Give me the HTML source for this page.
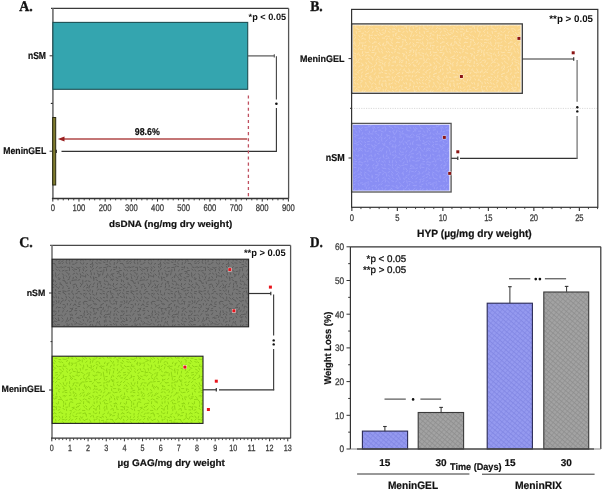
<!DOCTYPE html>
<html><head><meta charset="utf-8"><style>
html,body{margin:0;padding:0;background:#fff;width:602px;height:490px;overflow:hidden}
svg{display:block;filter:blur(0.35px)}
text{text-rendering:geometricPrecision}
</style></head><body>
<svg width="602" height="490" viewBox="0 0 602 490">
<defs><pattern id="pgrey" patternUnits="userSpaceOnUse" width="68" height="68"><rect width="68" height="68" fill="#777777"/><path d="M1.5 1.9L0.2 3.1M2.2 4.0L1.2 5.9M1.5 6.9L-0.1 7.8M69.5 6.9L67.9 7.8M2.1 9.7L2.5 11.7M1.8 16.1L0.3 16.6M1.5 18.6L-0.3 19.0M69.5 18.6L67.7 19.0M0.2 21.8L1.9 22.0M0.9 24.9L2.2 26.1M0.6 28.2L1.5 29.4M2.9 31.7L2.1 33.2M2.0 36.2L3.7 36.9M3.1 39.4L1.3 39.8M1.9 42.1L3.1 43.7M2.6 45.7L2.6 47.7M1.3 48.1L-0.1 49.2M69.3 48.1L67.9 49.2M1.5 52.0L0.3 53.6M1.4 54.9L1.4 57.0M1.7 58.5L1.8 60.0M1.6 63.3L-0.4 63.4M69.6 63.3L67.6 63.4M1.5 64.4L1.4 66.6M6.5 1.4L5.0 2.2M5.4 5.3L4.9 7.1M5.3 8.5L3.8 8.7M6.8 12.3L4.8 13.0M6.0 14.4L5.7 16.2M4.2 18.8L3.9 20.4M4.7 21.3L5.5 22.9M5.5 24.9L4.9 26.7M3.1 27.7L4.8 28.8M6.8 32.4L5.1 33.6M4.9 35.8L4.1 37.2M4.6 37.4L3.3 38.5M3.8 42.1L4.5 43.5M3.5 45.5L5.0 46.4M5.1 48.4L6.1 50.0M3.8 51.6L4.2 53.2M4.2 56.2L4.1 57.9M4.6 60.2L6.1 60.3M3.4 62.9L5.2 63.9M4.7 65.7L6.4 67.1M8.4 1.1L10.0 2.4M7.7 4.4L8.8 6.1M8.5 7.9L6.4 8.1M7.4 11.8L8.7 13.7M8.5 14.6L9.6 15.6M10.4 17.0L8.5 18.2M9.7 20.9L7.6 21.8M8.7 24.7L9.3 26.3M7.6 28.5L8.0 30.1M7.0 31.9L8.1 33.5M8.8 36.3L7.4 36.8M8.8 38.6L6.7 38.7M8.7 40.9L7.6 42.7M10.5 45.2L8.6 45.9M7.7 49.8L9.2 51.2M8.3 51.7L6.7 52.1M9.9 55.9L8.3 56.8M9.0 58.6L7.2 59.4M8.7 63.4L10.5 64.2M6.5 65.0L8.6 65.5M12.1 1.6L13.1 3.4M12.8 4.0L12.4 5.6M11.8 7.6L10.0 8.3M12.2 11.0L13.6 12.6M13.1 13.5L12.3 14.8M10.1 19.5L11.8 19.7M12.3 21.6L13.8 22.2M10.2 25.7L12.3 26.4M12.4 29.8L10.8 30.3M10.4 31.9L12.3 32.6M11.7 34.5L9.9 34.6M11.7 38.3L12.6 39.6M13.7 43.5L12.1 43.7M12.2 46.1L10.3 46.2M11.7 49.0L13.0 50.4M10.6 51.9L12.3 52.3M13.5 55.1L12.6 56.9M12.4 58.5L13.5 60.0M12.3 63.4L10.6 64.0M11.7 65.4L11.3 67.4M14.1 0.0L15.3 1.1M14.4 3.8L16.4 4.3M14.8 8.1L14.8 10.3M15.1 11.4L13.8 12.4M17.2 13.8L15.5 15.3M15.2 18.0L17.0 18.6M17.1 21.3L15.5 21.9M15.7 23.5L16.9 25.3M16.9 29.4L15.1 30.4M15.6 30.7L15.9 32.3M15.3 35.5L16.4 36.7M16.6 38.9L16.3 40.8M15.9 41.5L16.4 43.2M15.1 43.9L14.3 45.6M15.1 47.5L15.8 49.0M15.2 51.7L13.6 52.6M14.5 55.9L15.6 56.9M15.8 58.7L15.0 60.3M15.0 62.8L16.4 64.1M15.0 64.7L15.5 66.6M19.0 1.9L20.3 3.5M17.7 3.0L17.6 5.2M18.7 8.8L17.1 9.4M18.8 11.8L19.6 13.7M20.3 15.0L18.3 16.0M19.1 18.4L20.5 19.3M18.6 21.7L17.5 22.8M18.7 25.2L19.6 26.9M16.8 29.3L19.0 29.6M18.7 31.8L20.2 33.4M20.6 34.1L19.0 35.5M18.9 38.5L19.3 40.7M20.6 41.7L19.1 42.8M16.9 45.1L18.9 45.9M20.1 47.5L19.5 49.3M17.0 51.5L18.5 52.9M17.4 54.6L17.7 56.1M19.7 59.3L18.3 60.2M17.5 62.3L18.8 63.7M19.0 66.1L17.3 67.4M23.2 0.7L23.3 2.9M22.4 4.5L23.1 6.1M20.2 8.9L22.1 9.6M23.0 12.2L21.4 13.8M21.4 14.4L21.0 16.2M22.2 17.6L22.0 19.1M21.4 21.2L22.5 22.7M22.7 24.9L22.8 26.9M20.9 28.2L22.7 28.2M23.2 32.7L21.5 33.7M24.1 35.2L22.5 36.1M22.2 39.6L23.2 40.9M22.1 41.9L22.7 43.3M21.5 44.7L22.2 46.8M23.3 49.5L21.3 50.2M22.5 52.4L21.7 54.2M22.8 55.0L22.0 56.8M24.1 59.7L22.2 60.7M22.5 62.4L23.2 63.9M22.7 66.4L22.5 68.0M26.2 0.9L26.4 2.4M25.3 4.8L25.7 6.6M25.9 6.2L25.8 8.5M26.5 10.8L25.4 12.5M25.6 14.3L24.0 14.9M24.6 18.6L24.4 20.4M24.7 22.2L26.4 23.2M25.4 25.5L26.7 27.0M24.0 28.5L25.8 29.6M25.5 31.2L27.2 32.6M24.9 36.4L27.1 36.6M25.6 37.6L26.0 39.7M26.5 41.0L25.9 42.5M27.6 45.5L25.6 46.0M25.8 47.9L25.7 49.5M24.2 52.3L25.1 54.2M25.4 55.9L24.3 57.3M24.5 58.5L24.6 60.1M25.1 60.8L24.4 62.9M25.5 64.3L24.2 66.1M29.5 1.0L30.5 2.9M27.1 5.3L28.9 5.8M28.2 7.8L29.6 8.6M29.9 11.0L29.5 12.6M29.7 13.8L29.1 16.0M30.9 17.0L29.2 18.3M28.7 20.7L28.2 22.9M29.3 25.8L28.1 27.0M29.0 27.3L30.8 28.2M27.0 31.6L28.7 32.4M28.9 36.6L30.5 36.8M29.2 37.4L30.2 38.6M28.4 40.4L27.5 42.3M29.8 45.9L28.9 47.5M29.6 49.6L28.8 51.2M28.1 52.9L27.6 54.6M29.2 55.5L29.1 57.0M27.7 58.7L29.4 59.9M29.4 62.5L28.1 64.1M28.6 66.1L30.2 67.7M32.4 2.2L30.5 3.2M32.0 3.6L30.5 4.6M31.0 9.5L32.9 9.8M31.8 10.0L32.5 12.0M33.3 13.4L33.1 15.0M32.1 17.6L33.9 17.8M31.9 21.2L33.8 22.1M32.5 25.6L33.6 27.1M31.2 28.3L32.1 29.8M33.2 32.6L32.8 34.2M33.7 35.5L31.6 35.6M33.2 38.5L33.0 40.7M32.3 41.6L33.9 42.4M31.9 44.1L32.8 45.8M31.6 49.3L30.8 50.8M31.3 51.5L32.4 53.2M31.3 55.7L33.3 56.7M30.8 58.8L33.0 59.3M33.4 63.6L31.2 64.1M34.1 67.1L32.0 67.6M35.1 0.7L34.6 2.9M37.0 4.9L35.7 6.2M36.5 7.9L37.0 9.7M36.1 11.6L37.5 12.4M36.9 15.2L35.4 15.7M34.7 19.1L36.3 19.4M35.0 21.3L36.6 21.8M35.3 25.4L36.8 25.8M35.6 28.7L37.5 29.8M35.5 31.5L33.6 32.5M35.5 35.6L34.9 37.7M37.1 38.1L36.1 39.7M37.5 42.4L36.1 44.0M36.0 44.7L37.7 45.9M36.3 48.4L36.4 50.2M36.8 52.7L36.4 54.2M35.8 55.5L37.3 56.5M35.3 58.0L37.0 58.6M37.6 63.4L35.7 63.6M35.9 65.5L35.8 67.4M39.6 1.8L40.1 3.7M38.7 3.6L38.6 5.6M38.3 9.1L40.1 10.1M40.5 11.6L40.1 13.3M39.8 16.0L37.9 16.7M40.9 19.3L39.2 20.1M38.6 21.8L39.4 23.8M38.9 24.3L39.2 25.9M37.9 28.7L39.6 28.7M38.8 32.3L38.3 34.0M40.3 34.1L40.2 36.2M40.3 38.3L38.8 39.6M40.6 42.4L38.6 42.6M39.0 44.9L37.3 45.1M37.9 47.6L38.0 49.8M39.5 52.8L38.2 53.6M39.5 56.3L39.2 58.2M39.5 60.5L37.9 60.6M39.6 62.0L38.8 63.4M38.5 64.7L38.6 66.8M43.8 1.7L42.9 3.1M41.7 4.7L42.8 6.3M44.2 7.2L42.7 7.9M41.5 12.3L43.0 13.4M43.2 16.2L41.4 16.2M42.6 18.8L42.4 20.5M43.1 20.9L43.2 22.5M44.8 25.6L42.6 26.1M41.8 28.0L42.1 30.0M42.6 30.9L44.0 32.4M41.5 34.3L43.1 35.4M42.8 39.2L42.6 41.2M41.0 41.5L42.3 43.1M41.6 44.4L42.3 46.1M41.2 49.0L43.0 50.1M42.1 52.6L43.8 52.9M43.9 55.8L42.0 57.1M41.6 58.8L42.5 60.2M40.7 62.1L42.6 62.6M43.4 65.7L42.5 67.2M46.0 1.5L44.3 2.2M44.1 3.1L45.3 4.8M45.5 6.9L44.3 8.8M45.6 11.4L45.5 12.9M44.8 13.7L46.2 15.2M45.3 17.4L47.3 17.9M44.4 21.1L45.5 22.2M44.4 23.6L45.1 25.7M46.7 27.6L45.8 29.0M46.8 31.7L45.1 32.0M47.5 35.6L45.7 36.5M47.3 38.0L46.3 39.7M46.1 41.7L45.9 43.6M47.0 45.4L46.7 47.0M45.2 47.9L46.6 49.1M45.4 51.4L46.6 52.8M45.0 55.6L46.7 56.2M46.4 58.5L46.1 60.7M45.6 63.3L47.3 63.4M47.1 65.3L45.6 65.7M51.2 0.5L49.3 1.5M48.0 5.5L49.9 6.5M48.1 8.0L49.9 8.7M49.6 11.7L48.0 12.9M49.1 16.1L47.2 16.6M49.9 18.5L48.1 19.2M49.7 21.3L50.2 23.4M48.2 25.6L50.0 25.9M47.4 29.4L49.0 29.4M48.4 30.5L48.4 32.3M49.7 36.6L47.8 37.1M49.3 39.1L50.8 40.6M48.3 41.9L49.0 43.4M49.4 46.0L50.6 47.8M50.0 49.7L47.9 49.7M47.9 51.7L48.6 53.4M50.6 55.1L49.5 56.8M49.9 57.5L48.8 59.4M48.5 62.4L48.6 64.1M48.7 67.4L50.9 67.5M51.5 2.0L53.3 3.0M52.8 4.6L50.7 4.8M53.3 7.5L53.5 9.4M52.6 11.9L54.1 13.0M53.9 15.2L51.7 15.7M51.1 18.1L52.6 18.7M52.4 20.7L50.9 22.0M52.4 24.5L54.4 25.5M52.6 29.9L54.4 30.0M53.9 32.6L52.1 33.1M53.4 33.9L51.5 35.2M53.3 38.7L54.1 40.2M54.2 43.4L52.5 43.6M52.7 44.9L53.1 47.0M54.3 49.0L53.1 50.7M52.3 52.0L53.8 53.5M51.5 55.5L52.1 57.4M53.9 59.4L52.2 59.5M51.1 63.3L52.0 64.7M53.5 66.5L51.5 66.6M55.5 0.8L55.8 2.7M55.6 3.4L56.2 5.2M55.0 8.5L55.7 10.0M57.0 12.1L55.5 13.4M55.9 14.5L57.4 15.3M55.7 17.4L55.8 19.0M54.4 20.9L56.1 22.1M55.9 23.7L56.4 25.8M56.0 28.2L56.6 29.8M57.0 30.8L55.8 31.8M57.2 34.6L56.2 36.2M54.4 39.0L56.0 39.4M56.4 41.0L55.3 43.0M55.0 46.0L56.5 47.4M54.7 49.1L56.8 49.7M54.8 51.8L56.1 53.5M56.9 55.8L55.7 57.0M54.5 59.4L55.6 61.2M56.2 62.9L58.2 63.6M55.7 65.1L57.2 66.3M59.3 1.8L57.9 3.5M58.3 5.7L60.2 6.5M58.1 7.0L59.7 7.6M60.1 10.6L60.2 12.6M59.5 14.7L58.4 16.6M60.6 19.4L58.5 19.7M58.3 21.2L60.3 21.9M58.5 24.9L58.7 26.4M59.0 28.6L58.7 30.8M60.9 30.7L60.1 32.0M60.3 35.4L58.3 35.7M58.8 38.3L58.7 40.0M60.2 43.3L58.1 43.5M58.3 45.8L58.6 47.9M59.6 48.2L57.9 48.7M59.5 52.7L57.3 52.7M60.1 56.6L58.4 57.9M60.7 59.0L58.9 59.5M61.4 62.8L59.6 63.3M58.9 65.8L59.8 67.2M62.4 1.7L63.8 3.4M63.3 4.7L63.9 6.9M62.7 8.3L64.5 9.0M61.3 12.1L62.2 13.6M63.3 14.7L62.8 16.5M63.1 18.6L63.4 20.5M62.9 20.5L64.4 21.3M61.5 26.1L62.9 26.8M63.4 28.3L61.5 29.5M63.0 32.5L64.5 32.7M62.5 35.6L64.0 37.3M63.3 38.5L62.7 40.0M61.6 42.9L62.6 44.1M61.8 45.8L63.0 47.1M63.0 48.6L61.8 49.9M64.5 53.4L63.1 54.3M63.2 56.8L61.7 57.5M63.3 58.6L62.2 59.7M63.2 63.2L61.7 63.8M64.0 66.3L62.3 67.0M-1.3 0.7L0.2 1.3M66.7 0.7L68.2 1.3M65.9 3.6L67.1 4.8M64.7 8.6L65.8 10.6M67.6 11.1L66.1 11.4M-1.2 13.5L0.1 14.9M66.8 13.5L68.1 14.9M64.1 19.0L66.2 19.6M64.5 21.6L65.9 22.7M65.9 24.2L66.6 26.1M66.1 27.4L65.1 28.9M67.3 31.4L67.4 32.9M65.5 33.8L64.8 35.7M67.9 38.2L66.8 39.6M65.9 41.5L64.7 43.2M67.6 45.7L67.2 47.6M66.8 48.4L65.8 50.1M67.1 51.5L67.2 53.7M66.9 55.1L66.5 57.2M66.0 58.1L67.1 59.7M66.0 62.5L64.4 63.1M67.2 66.5L65.2 67.0" stroke="#585858" stroke-width="0.9" stroke-linecap="round" fill="none"/></pattern><pattern id="pgreen" patternUnits="userSpaceOnUse" width="68" height="68"><rect width="68" height="68" fill="#b0f826"/><path d="M2.0 2.6L3.6 2.9M2.9 4.9L2.1 6.4M2.2 8.0L1.7 9.5M2.3 10.8L0.8 12.5M2.6 14.6L2.9 16.3M0.5 16.7L0.7 18.5M1.5 22.1L1.3 24.0M0.6 23.7L1.5 25.1M2.2 29.4L1.3 30.8M3.4 32.2L1.9 33.8M1.8 35.4L2.8 37.4M3.5 37.6L2.1 39.0M1.6 41.5L1.6 43.7M1.2 45.7L2.2 47.7M2.9 48.1L2.4 50.3M1.6 52.1L2.9 53.2M3.0 55.1L1.3 55.6M3.7 58.9L1.7 59.2M2.2 62.1L1.3 63.8M1.3 64.5L1.2 66.7M6.3 0.1L4.5 1.2M6.6 3.8L5.5 4.9M4.6 7.2L6.3 8.7M4.9 11.6L3.4 12.3M4.2 15.2L4.7 17.2M3.1 17.9L4.9 18.9M3.1 23.1L5.1 23.3M4.6 24.5L3.3 25.4M4.1 28.6L4.6 30.1M5.4 31.4L7.2 31.6M4.5 36.0L6.2 36.6M4.8 38.3L3.2 39.7M7.0 42.7L5.1 43.5M5.5 44.5L4.6 46.0M4.9 48.9L3.4 49.5M5.3 51.6L5.3 53.3M6.5 54.7L5.9 56.4M3.2 59.3L4.7 60.0M3.0 61.8L4.9 62.4M6.2 67.2L4.0 67.7M7.2 0.9L8.6 2.3M9.3 5.1L8.3 6.5M7.5 8.6L9.1 8.6M8.8 10.3L7.7 11.6M6.9 14.0L8.2 15.1M8.0 17.8L9.1 19.4M8.8 22.9L6.8 23.2M8.5 24.8L8.1 26.3M7.6 28.5L9.0 29.4M9.3 30.9L9.2 33.1M9.7 35.2L7.9 35.2M6.5 39.3L8.2 39.8M8.4 42.9L10.2 43.0M7.5 45.3L9.1 46.5M7.1 47.8L7.9 49.8M6.7 52.8L8.3 53.9M8.9 55.4L7.6 56.6M6.6 58.3L8.6 58.9M9.3 63.4L8.4 64.6M9.5 66.2L8.3 67.7M12.3 1.1L10.9 2.1M13.0 4.9L10.9 5.2M12.4 8.6L13.4 10.0M11.6 10.3L12.1 12.3M13.6 15.1L12.2 15.9M10.7 19.5L12.4 20.3M11.9 20.7L9.8 21.5M11.7 23.9L12.8 25.3M12.1 28.4L12.5 30.3M12.0 32.2L9.9 32.6M11.5 35.1L10.4 36.4M13.4 38.3L12.3 39.7M13.3 42.4L12.9 44.0M12.1 43.7L11.4 45.8M11.1 48.4L11.2 50.2M13.0 53.0L11.8 54.5M13.7 55.0L12.3 56.4M11.8 59.7L13.3 61.0M12.7 63.2L10.7 63.4M11.4 65.4L10.1 67.1M14.5 2.4L16.8 2.5M16.9 5.0L14.8 5.7M15.0 8.7L13.7 9.8M15.0 11.5L16.8 12.7M14.3 14.7L14.6 16.4M14.6 17.9L16.4 19.3M14.2 19.8L14.3 22.0M15.6 25.1L15.7 27.1M14.9 27.6L14.9 29.1M13.4 32.4L15.2 33.4M16.5 34.6L15.4 36.4M15.4 37.8L17.0 38.7M14.2 42.0L16.2 42.0M16.5 44.7L16.3 46.5M14.6 49.4L15.7 51.0M16.0 52.6L14.5 53.0M16.5 54.7L15.6 56.6M16.4 58.9L15.0 59.6M15.7 61.6L15.5 63.7M15.5 65.9L16.5 67.3M17.9 0.2L19.3 1.9M17.4 5.0L18.1 6.7M18.2 6.7L18.4 8.3M19.6 11.0L17.5 11.8M19.4 15.4L17.7 15.8M16.9 17.5L18.6 18.6M19.1 21.2L17.7 22.3M19.1 24.8L19.8 26.8M19.2 29.6L17.4 30.0M19.9 32.6L18.4 34.1M20.4 35.9L18.8 37.5M18.7 38.6L17.7 40.2M19.3 41.6L17.6 41.8M17.7 46.2L19.6 47.5M17.4 47.4L18.2 49.0M20.4 53.0L19.0 54.2M19.6 55.0L18.0 55.9M17.4 59.4L19.0 60.2M19.0 61.6L20.5 62.3M17.5 65.5L18.7 66.7M21.8 0.2L21.2 1.9M21.0 5.6L22.6 5.9M23.6 7.8L22.3 8.9M21.6 11.8L22.7 13.6M23.3 15.0L21.5 15.1M21.5 18.1L22.6 19.9M22.5 21.2L22.2 23.4M23.1 25.4L23.4 27.2M21.1 27.4L23.2 28.2M21.8 32.4L20.6 34.3M21.7 34.8L20.5 35.7M20.5 38.3L21.9 39.2M23.5 41.4L21.5 41.6M20.3 46.2L21.7 47.5M22.2 47.7L22.2 49.2M22.2 53.2L20.6 54.2M21.7 56.6L23.4 57.4M20.4 58.3L22.0 58.9M20.7 61.3L21.4 63.1M23.6 -1.5L22.4 0.0M23.6 66.5L22.4 68.0M25.5 0.5L27.5 1.2M25.5 3.6L26.1 5.2M25.0 7.3L25.7 9.3M26.2 11.2L26.3 12.9M25.4 15.8L26.9 17.1M25.0 19.0L26.9 19.2M25.0 20.4L24.5 22.3M26.4 25.3L25.2 26.8M25.3 29.0L23.5 30.1M25.1 30.7L26.4 31.7M24.9 35.2L26.8 36.4M26.5 39.2L26.7 40.9M25.3 42.6L24.3 44.0M26.2 45.2L26.7 46.9M26.4 48.5L25.6 49.9M26.8 51.9L25.2 52.4M24.8 55.3L25.4 57.1M27.3 58.1L25.7 59.5M26.1 61.9L26.3 63.7M24.7 65.2L26.2 66.2M28.4 0.8L28.0 2.5M28.9 5.0L27.4 5.7M30.1 8.5L28.2 9.2M29.2 10.8L27.7 11.6M27.0 15.7L28.5 16.7M29.0 17.4L27.9 18.8M29.4 21.5L28.1 22.3M28.2 24.2L30.0 25.1M28.9 26.8L28.3 28.9M30.1 31.6L28.3 32.9M29.2 35.1L27.0 35.3M29.1 39.2L27.3 40.0M28.8 42.0L30.0 43.1M27.0 45.9L28.8 46.7M29.5 49.1L27.7 49.2M28.2 51.9L29.5 52.9M27.9 56.5L30.1 57.2M29.9 57.7L28.8 59.2M29.0 61.0L28.9 62.9M30.2 65.7L28.9 67.3M31.6 -0.2L31.7 1.4M31.6 67.8L31.7 69.4M31.6 3.7L31.3 5.7M31.7 9.2L33.6 9.9M31.2 11.5L31.5 13.1M31.8 14.6L31.9 16.8M32.9 18.1L31.0 18.6M30.9 21.8L31.8 23.8M33.5 25.9L31.7 26.5M32.9 26.8L33.9 28.7M32.2 32.7L30.1 32.7M33.3 33.7L33.0 35.7M32.8 38.4L31.5 39.4M32.3 42.6L30.1 42.8M33.5 45.2L32.0 45.6M32.6 49.7L30.8 50.3M33.5 51.0L33.0 52.5M30.8 55.3L32.6 55.4M32.7 58.3L31.9 59.7M32.0 61.9L32.7 64.0M31.3 65.2L31.5 67.0M36.9 0.9L36.8 2.8M36.4 5.6L34.7 6.8M34.1 8.4L35.7 9.1M35.6 12.3L33.6 12.5M35.7 13.8L36.0 15.6M34.7 17.5L36.3 18.8M37.1 22.1L36.5 23.6M36.2 26.2L34.3 26.4M35.1 28.6L36.6 30.1M35.3 32.1L35.5 34.1M35.7 34.7L36.0 36.9M36.3 37.8L36.3 40.0M37.1 42.8L35.5 43.0M35.8 45.1L36.1 47.3M37.2 48.1L36.4 50.0M36.9 51.8L35.4 52.9M35.3 55.7L34.4 57.3M36.5 60.1L34.9 61.2M36.4 62.1L37.0 64.0M36.9 -1.6L35.9 0.1M36.9 66.4L35.9 68.1M38.8 -0.2L39.0 1.4M38.8 67.8L39.0 69.4M40.5 3.8L39.8 5.8M37.9 8.6L38.7 10.0M40.2 11.4L38.4 11.9M37.2 14.1L39.1 14.2M39.1 16.8L40.1 18.4M41.0 22.8L39.1 23.6M39.6 24.1L39.0 25.6M38.9 28.7L38.4 30.7M39.0 30.8L39.0 32.8M39.3 36.5L37.7 36.6M39.0 39.2L37.9 40.5M40.2 41.5L38.4 42.3M38.9 44.2L39.4 46.0M37.9 47.9L39.6 49.1M40.5 52.5L39.7 54.5M38.7 54.8L37.8 56.0M37.4 59.7L38.8 60.6M37.8 63.7L39.9 63.7M38.6 65.7L38.7 67.3M44.5 0.3L42.7 1.6M41.6 6.0L43.2 6.4M43.3 6.9L41.7 8.0M42.1 11.3L44.3 11.5M40.9 14.7L42.7 15.5M41.5 17.9L43.3 18.1M42.4 20.6L43.9 21.9M43.3 25.3L42.3 27.2M40.9 29.8L42.5 30.0M41.6 31.8L41.5 34.1M43.9 35.9L43.3 37.6M42.8 39.1L44.4 40.2M41.8 40.4L40.9 42.3M42.4 46.1L44.3 46.9M43.6 48.9L43.7 50.6M42.3 52.9L40.7 53.1M42.8 56.1L43.7 58.0M41.9 58.0L41.5 60.1M43.5 61.7L41.6 62.1M42.8 65.0L43.6 66.3M44.9 0.6L45.4 2.5M47.7 4.5L45.7 4.9M46.5 7.6L44.5 7.9M44.5 11.5L45.2 13.2M45.9 13.9L47.2 15.4M47.8 17.2L46.0 18.2M45.5 21.5L44.7 23.4M46.0 24.2L46.0 25.9M45.0 28.4L46.6 29.0M45.7 31.0L45.3 33.1M44.9 35.1L45.7 36.6M46.1 40.0L44.0 40.4M44.3 41.4L45.9 42.0M45.5 43.7L46.0 45.7M45.6 48.6L47.8 48.6M44.9 51.9L46.4 52.7M44.6 54.9L46.1 56.2M46.4 58.1L46.9 60.0M47.5 63.5L45.9 63.6M46.9 64.9L46.4 66.7M48.7 1.1L50.2 1.4M50.2 5.2L50.4 6.8M50.0 7.5L50.2 9.5M49.4 10.7L47.6 11.8M51.5 15.0L49.4 15.2M48.6 19.2L50.0 20.0M50.1 20.2L50.0 22.3M50.3 24.4L49.1 25.3M49.6 29.0L49.3 30.7M51.4 32.2L49.6 33.5M51.1 35.4L49.5 36.4M48.2 38.0L49.2 39.1M50.3 42.0L48.8 42.5M49.5 44.4L50.4 45.9M50.3 48.8L50.5 50.5M49.1 52.3L47.3 52.5M48.8 56.9L50.6 57.1M48.7 57.9L49.5 59.8M47.8 62.6L49.0 64.2M48.3 -2.1L48.8 0.0M48.3 65.9L48.8 68.0M52.9 1.8L54.7 2.0M54.5 4.8L53.1 6.1M54.1 8.5L53.4 10.4M50.9 10.1L52.6 11.3M54.2 15.7L52.8 16.2M50.6 18.1L52.6 18.2M52.8 22.7L54.7 23.4M52.9 25.1L53.3 26.7M54.2 29.1L53.0 30.6M51.0 31.2L52.2 32.4M52.5 35.4L51.6 36.8M54.6 37.8L52.7 38.0M53.7 41.1L52.4 42.9M52.7 44.5L51.3 45.6M51.1 48.8L52.5 49.7M53.0 51.2L51.4 52.2M53.9 54.9L52.2 56.3M53.4 57.8L54.3 59.1M52.9 62.4L52.3 64.1M54.7 66.6L52.9 66.6M56.6 -0.3L56.3 1.7M56.6 67.7L56.3 69.7M54.6 5.0L56.3 5.8M55.6 8.1L57.1 8.8M55.6 11.4L56.0 13.1M54.8 14.4L56.6 15.3M54.9 18.3L57.1 18.3M54.4 20.3L55.7 22.0M56.3 25.5L58.0 26.8M54.1 27.6L55.9 28.3M57.4 32.4L55.3 32.8M57.7 34.6L55.6 35.2M57.5 37.4L56.3 38.9M57.0 41.2L55.4 42.6M57.3 44.8L56.2 46.0M55.7 48.2L57.3 48.2M56.4 52.9L56.6 54.9M57.4 56.8L55.2 57.0M56.5 58.2L54.9 58.8M56.0 63.3L57.4 64.2M56.9 66.6L54.9 67.6M59.8 1.6L58.1 2.3M60.5 4.0L58.9 4.8M58.9 8.0L60.0 9.8M60.1 11.0L58.7 12.5M60.8 15.7L59.2 16.7M58.8 19.4L60.8 19.7M58.8 21.6L60.4 22.2M61.1 26.4L59.0 26.5M59.5 29.2L61.3 30.2M59.7 32.1L61.0 33.7M59.9 34.8L58.6 36.3M57.8 39.3L59.5 39.6M59.5 42.7L61.0 44.2M58.4 45.2L59.1 46.6M60.1 49.1L58.6 49.8M58.3 51.0L59.7 52.0M59.5 56.6L61.0 57.7M60.7 59.3L58.4 59.6M58.5 61.7L58.3 63.7M58.7 66.8L60.5 67.3M62.8 0.4L64.5 1.4M61.3 4.9L62.8 5.5M62.8 8.2L62.2 10.1M64.2 11.6L62.2 11.7M62.5 13.6L63.9 15.0M62.9 19.0L65.0 19.4M61.6 21.9L62.9 22.8M63.9 24.5L63.2 26.4M62.6 27.9L63.6 29.5M63.0 31.2L61.6 32.2M63.3 35.1L63.5 37.2M63.4 37.4L61.6 38.4M63.2 42.6L63.7 44.4M62.5 46.0L63.8 47.6M63.2 48.7L64.8 48.8M64.0 51.9L62.5 52.2M64.7 55.5L63.0 56.0M61.3 59.0L62.6 60.8M63.6 61.4L63.7 63.3M63.7 64.8L63.4 66.7M66.3 0.9L66.7 2.7M66.1 5.5L66.0 7.1M66.5 8.5L65.6 9.8M66.9 11.4L65.3 12.2M-1.7 16.0L0.2 16.1M66.3 16.0L68.2 16.1M67.2 18.7L65.6 19.3M67.8 20.5L66.3 21.4M66.2 26.2L64.2 26.3M66.2 27.9L67.7 29.4M66.7 31.0L67.4 32.5M65.0 36.6L66.5 36.6M65.8 38.8L65.3 40.8M67.0 42.7L66.6 44.2M64.5 45.4L66.2 46.0M66.8 50.3L64.8 50.6M65.2 52.3L67.0 52.7M66.2 55.7L64.7 56.7M67.7 60.0L65.9 60.5M65.7 63.0L65.7 64.7M67.6 67.1L65.8 67.2" stroke="#8cd212" stroke-width="0.9" stroke-linecap="round" fill="none"/></pattern><pattern id="ppeach" patternUnits="userSpaceOnUse" width="68" height="68"><rect width="68" height="68" fill="#fad589"/><path d="M0.7 0.9L1.5 2.7M0.9 4.0L3.1 4.1M2.1 7.9L0.2 7.9M2.8 11.1L2.2 12.6M2.1 15.1L1.9 17.2M2.8 17.0L1.4 18.3M2.1 20.6L0.4 21.4M2.9 25.5L1.5 27.3M1.3 28.5L1.6 30.7M1.8 31.0L3.4 31.7M3.1 34.7L2.5 36.4M1.3 38.0L2.2 39.7M2.5 42.5L1.3 44.4M3.0 46.4L2.1 47.8M3.5 50.1L1.6 50.7M3.1 51.5L1.4 52.5M2.2 54.6L0.2 55.6M0.5 59.4L0.9 61.0M1.9 63.2L0.5 63.8M2.5 64.5L1.4 65.9M6.0 1.7L6.0 4.0M4.9 3.4L4.4 4.8M4.7 7.5L4.1 9.1M3.4 11.8L4.6 13.7M5.9 14.1L6.2 16.0M5.6 17.9L5.3 19.9M5.9 21.1L6.4 23.1M5.4 25.0L3.5 25.1M5.0 26.8L5.5 28.7M4.3 31.9L3.6 33.3M5.9 34.9L4.9 36.4M4.8 39.6L6.4 39.7M4.9 42.9L6.2 44.3M5.0 44.7L5.7 46.3M4.3 48.8L5.3 50.3M6.0 50.6L5.5 52.6M5.3 54.9L4.0 55.9M4.8 58.7L3.9 60.0M5.5 62.0L3.9 63.0M5.5 64.6L6.4 66.4M8.8 1.1L10.0 2.1M9.5 3.7L7.7 5.0M8.6 7.4L6.9 8.5M8.4 11.2L10.0 11.9M8.8 13.9L9.6 15.6M9.1 18.3L7.5 18.7M8.4 22.7L6.3 23.6M9.2 26.4L7.5 26.8M9.6 28.9L8.6 30.5M7.4 31.4L8.6 32.4M9.4 34.8L8.1 35.6M10.5 39.3L8.4 39.8M8.4 42.6L10.5 42.7M8.2 44.6L7.2 46.3M8.6 49.5L8.0 51.2M7.8 52.5L8.0 54.6M8.3 54.3L8.0 56.4M8.8 59.9L6.7 60.5M9.7 60.7L8.8 62.7M6.8 65.0L8.1 66.5M12.3 1.1L11.1 2.1M10.1 3.9L11.6 4.5M12.1 9.1L13.9 9.6M11.0 10.6L11.9 12.4M11.4 14.5L12.8 15.5M11.6 18.1L10.4 19.5M10.5 20.4L11.3 22.2M13.4 24.6L11.8 25.8M11.7 27.6L11.7 29.6M11.6 31.9L11.8 33.6M11.1 36.0L12.9 36.4M12.6 39.8L10.8 40.2M12.2 42.5L13.5 43.9M11.5 45.7L10.5 47.6M13.2 49.0L11.9 50.4M10.1 52.9L11.8 52.9M11.8 54.8L13.3 55.2M11.7 58.7L13.9 58.8M11.6 62.8L10.4 64.6M13.6 66.0L12.4 66.9M16.4 1.1L15.4 2.4M15.0 6.0L16.8 6.3M14.9 8.7L16.1 9.9M15.4 11.5L14.1 12.8M14.6 14.2L15.4 15.9M15.2 18.6L13.4 18.8M16.5 20.4L15.3 22.2M15.7 24.5L15.8 26.5M15.2 27.8L17.2 28.4M16.1 31.3L16.5 33.4M13.8 34.6L15.3 35.7M15.5 37.5L14.2 39.4M14.5 41.9L15.1 44.0M14.9 44.9L16.1 45.8M14.5 48.6L16.0 49.5M13.9 52.9L15.9 53.8M15.1 55.3L15.4 57.4M16.0 58.6L16.1 60.7M16.9 61.8L15.4 63.5M14.5 65.0L16.0 66.4M19.9 2.4L18.4 3.2M17.1 4.0L18.8 5.1M18.8 8.7L20.3 10.2M18.8 11.1L17.7 12.3M17.2 15.4L18.3 16.8M18.0 19.1L19.8 19.1M17.8 21.5L19.3 22.7M19.9 24.4L19.7 26.0M17.1 28.9L19.2 29.7M20.6 31.2L18.8 31.5M18.7 35.5L20.0 37.1M18.4 39.1L19.8 40.6M19.9 42.1L19.7 43.7M19.3 44.8L18.0 46.3M19.3 47.6L18.4 49.4M18.3 52.9L17.6 54.3M19.2 54.4L20.2 56.1M19.3 58.8L18.5 60.5M17.2 61.9L19.3 62.4M19.9 65.7L18.7 67.1M22.3 1.1L20.8 1.7M22.8 3.9L21.4 5.1M21.8 7.2L21.6 9.3M20.9 12.4L22.6 13.0M21.9 13.7L20.4 15.0M21.1 17.0L21.6 19.0M23.1 21.9L22.6 23.5M21.9 23.8L21.8 25.7M22.0 27.8L20.8 28.8M23.7 33.1L21.9 33.4M22.7 34.9L21.8 36.9M23.4 38.2L21.7 39.0M21.3 43.0L23.4 43.0M22.6 44.9L22.4 46.8M20.4 49.3L22.3 49.5M22.7 51.5L22.2 53.7M23.8 54.6L22.2 55.8M20.4 58.6L21.6 59.7M21.6 63.0L22.8 64.8M23.5 65.0L21.7 65.9M27.1 1.6L25.9 2.9M27.1 5.7L25.4 6.5M25.4 8.2L26.8 8.7M23.7 10.7L25.3 11.6M25.7 14.4L26.2 16.4M25.7 18.0L24.4 19.2M25.3 22.4L24.2 23.7M25.4 24.8L24.9 26.4M24.9 27.7L23.7 28.7M24.8 31.1L26.1 32.1M24.5 34.8L26.1 35.0M24.0 38.9L25.5 39.2M25.8 41.7L24.9 42.9M24.1 45.6L26.4 45.7M24.8 47.5L24.9 49.2M25.1 52.0L26.5 52.6M26.8 55.0L25.3 56.1M25.9 58.4L27.1 59.6M25.9 62.5L26.6 63.9M26.2 -1.3L25.7 0.1M26.2 66.7L25.7 68.1M27.1 0.3L28.4 1.1M28.6 5.2L27.0 5.7M30.9 7.8L29.1 9.1M29.4 10.0L30.5 11.6M29.3 13.5L30.6 15.2M27.5 17.6L28.5 19.3M30.6 20.6L29.2 22.1M30.6 25.4L28.8 25.8M29.4 27.7L28.0 28.9M29.0 30.8L27.7 32.3M29.4 34.6L29.4 36.2M29.3 36.9L29.5 39.0M28.5 40.8L30.1 42.3M30.1 46.4L28.4 47.2M29.4 49.1L30.3 50.6M28.7 52.3L27.1 52.6M28.1 54.9L30.0 55.4M27.4 58.0L29.2 58.9M28.3 61.0L29.9 62.5M28.0 65.4L28.5 67.5M32.6 1.6L32.5 3.2M32.2 3.7L30.8 4.5M30.3 9.0L32.1 10.3M30.5 11.1L32.1 12.5M33.4 14.9L31.8 16.4M31.8 18.2L32.1 19.7M33.8 21.9L32.4 22.8M32.9 24.8L31.9 26.0M31.0 28.6L32.9 29.1M33.3 31.2L32.4 33.0M32.5 35.3L30.7 35.4M31.5 37.6L32.8 38.6M34.4 42.6L32.3 43.5M32.7 46.0L32.5 47.8M34.3 50.1L32.4 50.4M34.1 52.5L31.8 52.5M31.1 56.7L32.5 57.6M32.9 58.0L32.8 60.0M30.6 62.8L31.8 64.2M32.5 66.3L31.3 67.5M34.5 0.5L35.0 2.0M35.5 4.8L34.2 6.6M36.5 8.6L37.2 10.2M35.3 10.8L35.2 12.8M34.8 15.4L36.0 16.9M36.1 18.7L37.1 20.1M35.5 20.5L37.3 21.3M35.0 24.6L36.6 24.8M37.4 28.7L35.3 28.9M36.2 30.8L37.5 31.6M34.6 35.2L36.5 35.5M34.0 37.9L35.5 39.4M34.6 41.8L36.4 42.1M37.0 46.0L35.0 46.6M35.9 47.7L34.3 49.2M35.9 52.6L35.6 54.3M35.4 54.0L34.4 55.9M37.2 58.5L36.1 60.4M36.2 62.2L36.7 64.1M35.5 64.6L34.3 66.5M38.8 0.6L39.6 2.3M40.6 4.9L39.0 5.1M38.4 7.5L39.0 9.6M40.1 12.2L39.6 13.7M39.2 14.6L39.3 16.3M38.6 19.4L40.6 20.0M39.9 21.8L37.7 22.5M40.2 24.6L38.6 25.0M38.4 29.0L39.3 30.4M39.7 32.6L40.7 34.1M37.8 34.0L39.4 35.6M37.5 38.0L38.7 38.9M40.0 42.6L38.3 43.6M39.1 43.9L40.6 45.6M38.0 47.9L38.1 49.6M38.4 50.9L40.0 52.4M37.3 56.5L39.2 57.7M38.8 59.5L40.2 60.2M38.8 61.5L40.6 62.7M40.9 65.1L39.0 65.3M41.8 -0.3L42.6 1.8M41.8 67.7L42.6 69.8M41.3 3.9L42.7 4.6M41.3 9.3L43.0 9.7M44.4 13.0L42.7 13.1M42.1 15.3L42.2 17.4M41.6 16.6L42.5 18.5M43.1 21.3L43.3 23.2M43.1 25.2L41.6 26.0M43.5 29.6L42.0 30.3M42.9 32.7L44.3 33.5M42.7 34.6L40.9 34.7M42.3 38.1L44.5 38.2M43.7 42.9L42.7 44.5M43.3 44.0L43.0 45.9M41.2 48.7L42.2 50.3M41.8 51.4L42.6 53.2M44.6 56.7L42.7 57.6M41.5 60.0L42.5 61.2M42.0 62.6L43.0 64.3M41.8 -1.5L42.1 0.3M41.8 66.5L42.1 68.3M46.9 2.6L45.0 2.6M44.9 5.2L46.7 5.6M45.7 9.0L47.8 9.4M45.3 12.3L46.0 13.8M45.8 15.1L46.2 17.3M45.8 17.6L47.0 19.1M46.2 20.8L45.2 22.8M45.4 24.1L46.8 25.2M45.3 27.8L47.0 28.3M45.5 30.1L45.2 32.3M46.9 35.7L45.1 36.8M47.3 38.3L46.4 39.6M46.7 41.1L46.9 43.3M46.2 44.6L44.6 45.7M44.6 47.5L45.3 48.9M46.1 51.3L47.3 52.6M46.3 55.0L45.5 56.9M46.8 58.5L44.7 58.6M45.7 62.0L44.1 63.6M44.8 64.2L44.9 66.1M49.8 1.7L50.7 3.3M48.8 5.5L50.2 6.6M47.2 8.7L49.4 8.9M48.5 11.9L50.2 12.3M49.3 15.3L49.1 17.0M50.5 18.3L50.4 19.9M47.9 22.7L49.7 23.4M50.4 24.4L48.8 25.9M49.5 29.0L50.8 29.9M48.2 31.2L50.0 32.5M49.4 36.3L47.8 36.6M49.6 38.3L50.9 39.4M47.8 41.5L48.6 43.5M49.8 44.0L50.4 45.7M47.8 48.0L49.2 49.5M48.2 51.2L49.6 52.4M49.9 54.8L49.0 56.2M48.8 59.2L50.6 60.3M49.4 62.0L48.7 63.9M50.0 64.6L48.3 65.9M51.9 1.1L53.4 2.7M54.1 3.8L52.2 5.1M52.3 8.9L52.4 10.5M53.9 10.8L52.6 12.2M52.6 14.9L50.9 15.8M52.6 18.6L53.0 20.5M52.3 22.4L53.5 23.3M52.7 24.7L54.0 26.5M54.7 29.0L52.5 29.0M52.3 31.8L54.3 31.8M53.2 34.4L53.3 36.3M52.3 38.7L51.9 40.5M51.2 41.8L52.3 43.5M51.2 45.1L52.7 46.2M52.0 48.2L53.8 48.5M51.3 52.3L52.7 53.1M53.7 56.7L51.9 57.5M51.9 57.8L53.0 59.1M54.7 61.8L52.8 62.1M53.4 65.6L51.7 65.8M55.6 1.2L57.0 2.2M58.0 5.0L56.5 6.6M55.7 8.4L54.5 9.6M55.5 12.1L56.5 13.9M54.7 15.0L55.9 16.4M56.5 18.9L55.1 20.3M57.2 21.4L55.8 22.4M55.9 25.0L56.5 26.4M54.5 28.6L56.1 29.9M57.0 32.9L55.2 33.9M56.0 33.6L55.6 35.6M56.1 37.9L58.1 38.9M57.2 41.9L56.1 43.1M56.5 45.5L55.9 47.1M56.0 49.3L54.5 49.9M55.6 51.1L54.2 52.3M56.3 56.5L55.7 58.1M55.9 57.5L57.2 59.1M55.4 60.9L55.3 62.7M58.0 64.8L56.5 65.9M60.7 0.8L59.8 2.3M59.6 4.5L58.1 5.5M58.0 8.0L59.7 8.6M59.9 11.2L59.4 12.8M58.0 13.4L58.8 14.9M60.4 17.5L58.9 18.8M59.9 21.7L59.8 23.6M59.8 23.9L58.3 25.0M58.8 29.0L58.3 30.9M60.2 31.4L58.5 31.4M58.3 36.5L60.1 37.2M60.3 38.3L58.6 38.7M57.3 42.4L59.4 42.5M59.4 46.7L61.4 47.0M58.5 48.5L59.5 49.9M57.5 52.7L59.7 53.3M57.8 56.8L59.1 57.7M60.8 58.9L59.4 60.2M60.3 61.1L59.3 62.7M59.6 64.9L61.6 65.3M64.5 0.7L63.3 2.3M62.9 4.3L62.4 5.7M61.8 8.4L63.1 9.7M62.8 10.6L61.8 12.5M63.3 14.7L64.7 15.8M62.1 17.1L61.6 19.0M61.5 21.1L63.1 21.6M63.8 24.6L62.0 25.3M61.5 28.6L63.5 28.9M64.1 31.3L62.9 32.6M61.4 34.5L63.0 35.6M62.2 39.3L64.2 40.0M62.9 41.3L62.8 43.1M62.6 44.7L61.7 46.6M64.9 48.2L62.9 48.9M62.4 53.4L64.4 54.3M64.2 54.1L63.5 56.3M63.3 60.1L61.5 60.6M62.8 61.8L61.3 62.7M63.3 66.0L61.6 66.4M64.7 2.0L65.6 3.5M-1.6 4.3L0.5 4.9M66.4 4.3L68.5 4.9M66.5 7.7L64.9 8.0M66.8 10.8L67.7 12.2M66.1 14.5L66.7 16.3M66.8 19.3L64.8 19.7M66.5 20.5L67.7 21.7M66.5 26.3L64.4 26.9M66.3 27.2L66.6 28.7M66.6 30.9L68.0 32.6M65.0 35.9L66.2 37.5M65.1 39.2L65.6 40.9M66.1 42.1L67.2 43.3M67.3 44.4L65.7 45.1M64.7 48.6L66.3 49.2M66.0 51.7L66.8 53.2M66.1 55.7L66.5 57.8M65.3 58.0L67.2 59.1M66.3 61.5L66.2 63.7M65.7 65.3L66.3 66.7" stroke="#fde3ae" stroke-width="0.9" stroke-linecap="round" fill="none"/></pattern><pattern id="pblue" patternUnits="userSpaceOnUse" width="68" height="68"><rect width="68" height="68" fill="#898ef4"/><path d="M0.8 -0.0L1.3 1.5M0.8 68.0L1.3 69.5M1.7 4.6L-0.4 5.1M69.7 4.6L67.6 5.1M2.4 7.0L2.2 8.7M0.1 10.3L1.8 11.7M3.2 15.5L1.8 16.5M2.0 18.2L0.5 19.8M2.9 20.2L2.3 22.1M1.6 23.9L1.8 25.5M2.9 28.9L2.6 30.6M3.7 32.1L1.7 32.9M2.0 34.6L1.4 36.4M1.5 38.2L0.2 39.1M0.0 42.1L1.2 43.5M2.5 45.5L0.8 45.5M1.8 47.8L1.1 49.4M0.8 52.5L1.9 54.1M1.8 55.0L3.5 55.3M1.7 59.2L3.0 60.4M-0.1 62.7L1.9 62.9M67.9 62.7L69.9 62.9M3.4 -1.4L1.9 0.2M3.4 66.6L1.9 68.2M5.0 1.1L2.9 1.3M5.3 5.2L4.5 7.2M4.5 7.0L4.8 8.6M4.4 12.3L5.2 13.7M4.7 13.9L3.3 15.1M5.5 17.7L3.7 17.8M3.6 20.9L5.2 21.2M4.6 24.5L6.5 24.8M3.6 29.7L5.4 30.4M6.7 32.0L4.8 32.1M3.6 35.4L5.4 35.6M5.3 39.5L3.7 40.5M3.4 41.3L4.6 42.5M3.8 46.4L5.2 47.1M7.0 49.4L5.2 49.5M6.9 52.4L5.2 53.7M4.2 54.5L5.9 55.8M5.6 59.6L6.5 61.4M6.6 62.7L5.0 63.8M4.7 65.9L6.2 67.6M10.7 0.6L8.5 0.8M9.7 3.8L8.1 4.3M8.8 8.7L10.4 9.1M9.6 11.3L8.0 12.9M8.6 13.9L7.1 14.3M10.3 17.2L8.5 18.4M10.2 21.9L8.6 22.5M9.9 24.7L7.9 25.4M7.7 28.9L9.2 29.0M9.6 31.9L7.8 32.7M8.4 34.7L6.9 36.0M8.0 39.5L6.7 40.3M9.3 41.7L7.9 42.8M8.7 45.8L7.1 46.0M8.5 49.3L6.7 49.9M8.9 53.0L7.7 54.1M8.8 54.5L10.0 56.3M7.4 59.7L9.3 60.8M7.7 61.2L7.7 63.0M9.1 66.7L8.1 67.9M11.4 0.8L11.5 2.8M11.1 3.3L12.6 4.8M12.6 9.1L10.6 9.2M11.7 11.2L12.9 13.1M11.2 15.4L12.4 17.2M12.4 18.2L12.7 19.8M12.9 21.1L12.1 22.5M11.6 24.2L10.2 25.1M13.1 27.7L12.6 29.5M11.9 30.3L12.5 32.4M10.7 35.3L11.6 36.8M11.8 37.8L9.7 38.1M13.4 43.1L11.8 43.4M12.4 44.8L11.8 47.0M11.6 50.1L13.5 50.8M12.7 52.3L11.9 54.3M11.1 56.2L11.7 58.1M12.4 59.3L13.3 60.7M12.6 63.2L10.4 63.2M12.4 65.6L10.9 66.5M14.3 0.0L15.9 1.1M15.3 4.4L16.2 6.4M14.5 7.4L16.7 7.9M16.7 12.1L16.2 13.7M13.5 14.0L15.2 15.4M15.5 19.0L17.0 19.7M13.9 22.6L15.7 23.7M16.6 25.5L14.9 25.7M14.6 27.9L16.1 28.3M13.7 31.2L16.0 31.6M15.4 35.8L14.2 37.5M16.6 39.8L14.7 40.6M16.1 42.2L14.8 43.7M16.1 44.6L14.5 45.5M15.1 48.2L13.5 48.8M15.8 52.8L14.2 53.5M13.9 55.8L16.1 56.0M13.4 60.2L14.9 61.0M15.4 63.0L16.9 64.3M14.3 66.2L16.1 67.4M21.0 1.9L18.8 2.5M19.3 5.4L17.6 6.4M18.6 8.5L16.9 9.0M19.3 12.1L18.8 13.6M19.9 14.3L18.1 15.2M18.6 18.8L17.9 20.5M20.5 22.7L18.5 23.4M19.4 25.1L18.8 26.9M18.9 28.3L20.9 28.8M19.0 31.6L18.4 33.2M18.8 34.0L17.1 35.4M20.2 38.1L18.1 38.3M19.6 40.8L17.8 41.8M19.5 44.2L18.5 45.3M18.2 47.5L19.1 49.4M18.8 52.7L19.8 54.2M18.6 53.9L19.3 56.1M18.7 59.5L19.9 61.2M19.2 62.6L19.5 64.2M18.4 67.0L16.7 67.4M23.1 0.5L22.3 2.5M21.0 4.7L22.3 6.1M20.3 7.1L21.7 8.8M20.1 12.2L22.3 12.8M20.4 13.6L22.2 15.0M22.5 18.8L22.5 20.4M22.5 22.0L20.9 22.0M20.4 25.9L22.5 26.7M22.2 28.1L21.1 30.0M20.2 32.6L22.0 33.7M20.3 35.9L21.7 36.8M20.4 37.7L21.6 39.7M23.2 42.2L21.5 42.2M22.4 46.8L20.4 47.1M24.2 47.9L22.3 48.6M21.7 53.2L23.3 53.8M21.4 55.1L21.1 57.0M22.7 59.6L20.9 60.6M20.3 61.5L21.7 62.6M22.6 64.7L21.9 66.4M26.0 2.1L24.4 2.3M24.5 5.8L25.7 6.7M25.5 8.4L24.0 10.1M24.9 10.0L26.1 11.7M24.9 13.6L25.6 15.3M24.5 18.3L25.9 18.9M26.0 21.9L26.4 23.4M25.9 25.3L24.1 25.9M25.8 28.4L27.5 29.5M26.2 32.0L25.2 33.1M24.6 36.1L26.1 36.7M24.6 37.7L24.9 39.5M25.3 40.8L26.3 42.6M26.4 46.8L24.8 47.2M25.2 48.5L25.0 50.3M26.3 51.2L26.4 52.8M27.2 56.3L25.6 56.4M24.9 59.6L27.1 59.9M27.4 61.7L25.3 62.1M25.2 65.8L26.3 67.0M28.1 2.0L29.6 3.1M29.5 5.4L27.3 5.7M27.4 8.3L29.4 8.3M28.8 12.5L30.6 12.9M28.7 14.9L27.1 15.4M30.4 19.3L29.0 20.2M30.7 23.1L29.1 23.1M27.8 24.1L27.7 25.9M28.4 28.4L27.4 30.1M29.4 31.8L28.5 33.1M27.8 34.5L29.7 35.2M27.8 38.0L29.1 39.5M26.9 42.6L29.1 43.1M28.2 45.6L28.0 47.4M29.1 48.3L27.7 49.6M29.3 51.3L28.7 52.9M29.0 55.5L28.7 57.4M30.1 58.6L28.1 58.9M29.3 63.1L29.6 64.9M27.9 65.2L29.0 66.6M31.1 0.9L32.2 2.4M33.7 4.2L31.7 5.1M31.2 8.9L32.6 9.7M32.4 10.8L34.6 10.8M31.3 14.8L31.0 16.5M31.4 19.0L32.0 20.6M31.7 22.0L32.6 23.3M32.2 24.4L33.7 24.7M34.1 28.0L32.8 29.5M33.0 31.0L33.9 32.8M31.8 34.7L30.4 36.0M32.1 39.1L32.5 41.2M31.8 40.7L32.3 42.3M30.3 45.0L32.0 45.8M33.7 49.6L32.0 50.2M32.3 52.6L33.1 54.7M32.4 56.7L30.3 57.5M32.9 59.0L33.3 61.0M33.6 62.0L32.8 64.1M30.7 65.8L32.9 66.0M35.4 1.5L36.6 2.7M35.2 5.2L36.1 6.8M34.5 8.9L36.5 9.7M35.2 11.7L33.8 13.0M35.5 14.4L37.1 15.2M35.3 18.2L34.9 20.2M37.7 22.1L35.9 23.4M36.3 25.2L37.2 26.9M37.3 29.3L35.3 29.9M36.4 30.9L35.8 32.5M34.9 34.9L37.2 35.0M35.5 38.5L37.6 38.8M37.3 41.1L35.4 42.3M35.1 45.2L36.6 45.5M35.9 49.1L35.2 50.6M36.7 50.9L36.1 52.4M35.2 54.9L33.8 55.9M34.1 58.6L35.0 60.3M36.7 63.2L35.0 63.6M35.5 64.8L36.6 66.0M40.6 0.5L39.3 2.2M38.2 3.7L39.5 5.1M39.7 7.0L37.9 7.9M40.7 11.9L39.3 13.5M40.5 14.5L38.7 15.7M37.4 17.4L39.0 18.3M40.8 21.8L39.2 22.6M39.6 24.1L38.9 25.7M38.1 27.6L37.7 29.7M39.3 32.9L37.9 33.8M40.8 36.6L38.7 36.9M39.3 38.3L38.4 40.1M38.5 42.6L38.3 44.2M38.5 44.1L38.7 45.7M40.1 48.2L38.3 49.3M38.6 52.6L38.1 54.3M39.8 54.0L40.4 55.9M39.1 59.2L37.5 59.8M40.7 62.1L38.5 62.2M37.9 66.3L38.7 67.6M41.7 1.3L41.9 3.2M41.2 3.4L42.0 5.2M42.7 7.4L43.8 9.3M43.7 12.0L42.2 13.1M42.4 13.5L41.4 15.3M43.5 18.8L43.4 20.6M43.2 20.2L44.0 22.0M41.9 25.3L43.6 26.2M41.0 28.2L42.5 29.1M42.0 31.6L43.6 32.5M42.3 34.5L43.5 35.9M43.4 37.3L42.6 38.7M44.1 41.4L42.8 42.2M43.3 44.6L41.7 46.0M42.2 47.5L41.0 48.9M41.8 51.4L42.6 53.2M42.1 54.1L42.3 56.3M44.0 59.8L42.2 60.2M41.2 63.3L43.2 63.9M41.7 65.5L41.6 67.6M45.5 1.7L44.2 2.5M47.1 3.8L45.6 5.4M44.7 7.1L44.7 9.4M46.1 10.4L47.7 11.2M46.8 14.9L46.4 17.1M47.0 18.8L46.3 20.4M47.3 22.4L45.7 22.8M44.1 24.5L45.4 25.8M44.7 28.3L45.0 30.0M43.9 32.1L46.0 32.8M44.5 36.3L46.2 37.0M46.4 38.1L46.7 40.2M45.1 42.5L45.1 44.2M45.9 44.5L45.2 46.2M46.9 49.2L45.0 50.1M46.0 52.2L44.8 54.0M46.3 55.6L45.0 56.8M45.1 58.8L45.9 60.8M45.9 61.3L45.2 63.2M46.8 -1.5L47.3 0.3M46.8 66.5L47.3 68.3M49.9 0.8L49.4 2.6M51.0 5.4L49.3 6.7M51.0 7.8L49.4 8.1M47.6 11.5L49.1 12.3M49.3 13.6L49.8 15.3M50.4 16.8L50.3 18.6M48.1 20.9L48.9 22.5M49.3 24.7L49.5 26.6M48.6 28.5L50.5 29.3M48.2 32.7L50.0 33.5M49.7 35.5L48.0 36.6M48.6 39.4L50.3 40.9M48.4 42.5L49.9 43.1M47.7 45.3L49.3 46.7M49.5 49.4L47.5 50.0M51.0 53.1L49.6 53.8M49.1 54.6L49.5 56.6M49.2 58.4L50.5 59.2M49.1 63.4L50.6 63.9M47.5 67.2L49.4 67.7M54.1 0.2L53.1 1.7M52.1 4.5L54.0 5.5M53.0 8.6L52.4 10.7M51.9 10.8L54.2 10.9M53.9 15.6L52.3 16.4M52.2 18.9L54.1 19.2M54.3 21.7L53.1 22.7M52.7 24.4L52.3 26.6M52.7 28.0L52.6 30.1M52.2 31.2L53.6 32.9M51.6 35.4L53.1 37.1M51.6 37.9L52.5 39.9M52.5 41.2L54.0 42.7M51.6 44.8L53.5 45.5M52.2 49.8L54.0 50.3M51.2 52.3L52.5 53.4M53.5 54.8L52.2 55.8M51.6 59.5L52.7 60.8M54.3 62.4L52.5 63.7M53.5 64.4L54.1 66.2M55.2 1.5L56.0 3.6M55.5 4.0L54.7 5.9M55.5 8.7L56.6 10.2M55.3 10.1L55.4 12.2M55.1 14.2L55.6 16.4M55.3 18.7L56.9 20.2M55.4 20.4L54.6 22.1M55.7 24.9L56.6 26.7M56.4 28.4L55.3 29.8M57.5 33.0L55.9 33.1M55.1 34.4L56.7 35.4M57.6 37.6L55.9 38.9M56.4 42.5L58.0 43.7M57.0 44.8L55.6 45.9M56.7 49.4L57.2 51.0M55.8 51.5L57.9 52.3M55.1 54.6L55.8 56.5M54.5 58.9L56.2 59.2M57.0 62.2L56.3 64.3M55.4 65.0L54.6 66.6M61.7 0.9L59.6 1.2M59.7 5.3L60.1 7.0M60.2 8.5L58.5 9.6M60.8 11.8L59.6 12.8M59.9 14.7L60.7 16.1M59.3 17.2L60.2 18.9M57.9 21.3L59.7 21.7M59.7 24.3L60.8 25.5M58.9 28.9L60.6 30.1M57.3 31.1L59.3 31.7M57.8 35.7L59.2 36.8M58.1 38.8L59.0 40.9M59.8 41.7L60.1 43.6M59.1 46.5L60.3 47.5M61.1 48.9L60.3 50.6M59.0 51.5L57.6 52.5M59.1 55.7L60.4 56.5M57.8 59.4L59.2 60.7M58.9 63.1L60.5 64.0M60.0 65.7L60.2 67.7M63.7 1.8L63.5 3.4M62.5 4.7L61.5 6.3M63.1 7.0L63.7 8.7M63.0 12.4L64.0 13.6M63.4 16.2L61.8 16.2M63.4 18.3L61.6 19.0M63.5 22.4L62.0 24.0M64.2 25.8L63.1 27.5M64.0 29.1L61.8 29.5M63.8 31.8L63.9 33.6M63.2 35.9L62.1 37.7M63.2 37.3L63.4 39.0M63.6 42.1L64.4 43.8M64.4 45.3L63.3 46.7M61.9 49.3L63.5 50.5M63.8 52.9L63.6 54.9M65.0 56.4L63.2 57.2M61.0 60.0L63.0 60.6M62.8 62.8L62.0 64.5M63.8 65.8L61.9 65.8M-1.4 0.7L0.2 0.9M66.6 0.7L68.2 0.9M65.0 5.9L66.8 6.6M66.6 7.4L67.7 8.7M65.4 11.3L65.1 12.9M66.9 14.6L66.0 16.0M66.2 18.7L65.1 20.5M65.6 21.4L66.3 23.2M67.2 24.5L67.5 26.5M65.2 28.5L67.4 28.7M65.8 32.2L66.8 34.1M67.6 34.6L66.4 35.6M67.2 39.1L66.1 40.4M66.9 41.4L65.0 42.1M66.7 44.8L67.2 47.0M67.8 48.9L66.8 50.9M66.7 51.6L65.1 52.9M66.7 55.8L67.2 57.4M67.0 59.5L66.9 61.3M66.3 61.6L67.9 62.7M65.1 66.9L67.4 67.0" stroke="#9a9ef8" stroke-width="0.9" stroke-linecap="round" fill="none"/></pattern><pattern id="pdgrey" patternUnits="userSpaceOnUse" width="3.6" height="3.6" patternTransform="rotate(40)"><rect width="3.6" height="3.6" fill="#a3a3a3"/><rect width="3.6" height="1.0" fill="#8c8c8c" opacity="0.8"/><rect width="1.0" height="3.6" fill="#8c8c8c" opacity="0.6"/></pattern><pattern id="pdblue" patternUnits="userSpaceOnUse" width="3.6" height="3.6" patternTransform="rotate(40)"><rect width="3.6" height="3.6" fill="#959af0"/><rect width="3.6" height="1.0" fill="#8085e2" opacity="0.8"/><rect width="1.0" height="3.6" fill="#8085e2" opacity="0.6"/></pattern></defs>
<rect width="602" height="490" fill="#fff"/>
<text x="19.20" y="11.00" font-family="Liberation Serif" font-size="14.77" font-weight="bold" fill="#111" stroke="#111" stroke-width="0.35" textLength="13.50" lengthAdjust="spacingAndGlyphs" >A.</text>
<line x1="51" y1="8.4" x2="288.6" y2="8.4" stroke="#3a3a3a" stroke-width="1.2" />
<line x1="288.6" y1="8.4" x2="288.6" y2="198.6" stroke="#555" stroke-width="1.3" />
<line x1="52.9" y1="8.4" x2="52.9" y2="198.6" stroke="#7d7d7d" stroke-width="1.8" />
<line x1="51.9" y1="198.5" x2="288.6" y2="198.5" stroke="#333" stroke-width="1.3" />
<rect x="52.9" y="22.4" width="194.8" height="66.9" fill="#34a5af" stroke="#1d4f53" stroke-width="1.1"/>
<rect x="52.7" y="117.5" width="3.0" height="67.5" fill="#7f7b2e" stroke="#2a2a10" stroke-width="1"/>
<line x1="49.6" y1="55.8" x2="52.7" y2="55.8" stroke="#333" stroke-width="1" />
<line x1="49.6" y1="151.2" x2="52.7" y2="151.2" stroke="#333" stroke-width="1" />
<line x1="50.8" y1="103.4" x2="52.7" y2="103.4" stroke="#222" stroke-width="1.1" />
<line x1="52.8" y1="198.6" x2="52.8" y2="201.6" stroke="#333" stroke-width="1" />
<line x1="58.035999999999994" y1="198.6" x2="58.035999999999994" y2="200.4" stroke="#333" stroke-width="0.9" />
<line x1="63.272" y1="198.6" x2="63.272" y2="200.4" stroke="#333" stroke-width="0.9" />
<line x1="68.508" y1="198.6" x2="68.508" y2="200.4" stroke="#333" stroke-width="0.9" />
<line x1="73.744" y1="198.6" x2="73.744" y2="200.4" stroke="#333" stroke-width="0.9" />
<line x1="78.97999999999999" y1="198.6" x2="78.97999999999999" y2="201.6" stroke="#333" stroke-width="1" />
<line x1="84.216" y1="198.6" x2="84.216" y2="200.4" stroke="#333" stroke-width="0.9" />
<line x1="89.452" y1="198.6" x2="89.452" y2="200.4" stroke="#333" stroke-width="0.9" />
<line x1="94.68799999999999" y1="198.6" x2="94.68799999999999" y2="200.4" stroke="#333" stroke-width="0.9" />
<line x1="99.92399999999999" y1="198.6" x2="99.92399999999999" y2="200.4" stroke="#333" stroke-width="0.9" />
<line x1="105.16" y1="198.6" x2="105.16" y2="201.6" stroke="#333" stroke-width="1" />
<line x1="110.39599999999999" y1="198.6" x2="110.39599999999999" y2="200.4" stroke="#333" stroke-width="0.9" />
<line x1="115.63199999999999" y1="198.6" x2="115.63199999999999" y2="200.4" stroke="#333" stroke-width="0.9" />
<line x1="120.868" y1="198.6" x2="120.868" y2="200.4" stroke="#333" stroke-width="0.9" />
<line x1="126.10399999999998" y1="198.6" x2="126.10399999999998" y2="200.4" stroke="#333" stroke-width="0.9" />
<line x1="131.33999999999997" y1="198.6" x2="131.33999999999997" y2="201.6" stroke="#333" stroke-width="1" />
<line x1="136.576" y1="198.6" x2="136.576" y2="200.4" stroke="#333" stroke-width="0.9" />
<line x1="141.81199999999998" y1="198.6" x2="141.81199999999998" y2="200.4" stroke="#333" stroke-width="0.9" />
<line x1="147.048" y1="198.6" x2="147.048" y2="200.4" stroke="#333" stroke-width="0.9" />
<line x1="152.284" y1="198.6" x2="152.284" y2="200.4" stroke="#333" stroke-width="0.9" />
<line x1="157.51999999999998" y1="198.6" x2="157.51999999999998" y2="201.6" stroke="#333" stroke-width="1" />
<line x1="162.75599999999997" y1="198.6" x2="162.75599999999997" y2="200.4" stroke="#333" stroke-width="0.9" />
<line x1="167.992" y1="198.6" x2="167.992" y2="200.4" stroke="#333" stroke-width="0.9" />
<line x1="173.22799999999998" y1="198.6" x2="173.22799999999998" y2="200.4" stroke="#333" stroke-width="0.9" />
<line x1="178.464" y1="198.6" x2="178.464" y2="200.4" stroke="#333" stroke-width="0.9" />
<line x1="183.7" y1="198.6" x2="183.7" y2="201.6" stroke="#333" stroke-width="1" />
<line x1="188.93599999999998" y1="198.6" x2="188.93599999999998" y2="200.4" stroke="#333" stroke-width="0.9" />
<line x1="194.17199999999997" y1="198.6" x2="194.17199999999997" y2="200.4" stroke="#333" stroke-width="0.9" />
<line x1="199.40799999999996" y1="198.6" x2="199.40799999999996" y2="200.4" stroke="#333" stroke-width="0.9" />
<line x1="204.644" y1="198.6" x2="204.644" y2="200.4" stroke="#333" stroke-width="0.9" />
<line x1="209.88" y1="198.6" x2="209.88" y2="201.6" stroke="#333" stroke-width="1" />
<line x1="215.11599999999999" y1="198.6" x2="215.11599999999999" y2="200.4" stroke="#333" stroke-width="0.9" />
<line x1="220.35199999999998" y1="198.6" x2="220.35199999999998" y2="200.4" stroke="#333" stroke-width="0.9" />
<line x1="225.58799999999997" y1="198.6" x2="225.58799999999997" y2="200.4" stroke="#333" stroke-width="0.9" />
<line x1="230.82399999999996" y1="198.6" x2="230.82399999999996" y2="200.4" stroke="#333" stroke-width="0.9" />
<line x1="236.06" y1="198.6" x2="236.06" y2="201.6" stroke="#333" stroke-width="1" />
<line x1="241.296" y1="198.6" x2="241.296" y2="200.4" stroke="#333" stroke-width="0.9" />
<line x1="246.53199999999998" y1="198.6" x2="246.53199999999998" y2="200.4" stroke="#333" stroke-width="0.9" />
<line x1="251.76799999999997" y1="198.6" x2="251.76799999999997" y2="200.4" stroke="#333" stroke-width="0.9" />
<line x1="257.00399999999996" y1="198.6" x2="257.00399999999996" y2="200.4" stroke="#333" stroke-width="0.9" />
<line x1="262.23999999999995" y1="198.6" x2="262.23999999999995" y2="201.6" stroke="#333" stroke-width="1" />
<line x1="267.476" y1="198.6" x2="267.476" y2="200.4" stroke="#333" stroke-width="0.9" />
<line x1="272.712" y1="198.6" x2="272.712" y2="200.4" stroke="#333" stroke-width="0.9" />
<line x1="277.948" y1="198.6" x2="277.948" y2="200.4" stroke="#333" stroke-width="0.9" />
<line x1="283.18399999999997" y1="198.6" x2="283.18399999999997" y2="200.4" stroke="#333" stroke-width="0.9" />
<line x1="288.41999999999996" y1="198.6" x2="288.41999999999996" y2="201.6" stroke="#333" stroke-width="1" />
<text x="52.8" y="211.4" font-family="Liberation Sans" font-size="9.6" font-weight="normal" text-anchor="middle" fill="#383838" stroke="#383838" stroke-width="0.25" textLength="4.27" lengthAdjust="spacingAndGlyphs" >0</text>
<text x="78.98" y="211.4" font-family="Liberation Sans" font-size="9.6" font-weight="normal" text-anchor="middle" fill="#383838" stroke="#383838" stroke-width="0.25" textLength="12.81" lengthAdjust="spacingAndGlyphs" >100</text>
<text x="105.16" y="211.4" font-family="Liberation Sans" font-size="9.6" font-weight="normal" text-anchor="middle" fill="#383838" stroke="#383838" stroke-width="0.25" textLength="12.81" lengthAdjust="spacingAndGlyphs" >200</text>
<text x="131.34" y="211.4" font-family="Liberation Sans" font-size="9.6" font-weight="normal" text-anchor="middle" fill="#383838" stroke="#383838" stroke-width="0.25" textLength="12.81" lengthAdjust="spacingAndGlyphs" >300</text>
<text x="157.52" y="211.4" font-family="Liberation Sans" font-size="9.6" font-weight="normal" text-anchor="middle" fill="#383838" stroke="#383838" stroke-width="0.25" textLength="12.81" lengthAdjust="spacingAndGlyphs" >400</text>
<text x="183.7" y="211.4" font-family="Liberation Sans" font-size="9.6" font-weight="normal" text-anchor="middle" fill="#383838" stroke="#383838" stroke-width="0.25" textLength="12.81" lengthAdjust="spacingAndGlyphs" >500</text>
<text x="209.88" y="211.4" font-family="Liberation Sans" font-size="9.6" font-weight="normal" text-anchor="middle" fill="#383838" stroke="#383838" stroke-width="0.25" textLength="12.81" lengthAdjust="spacingAndGlyphs" >600</text>
<text x="236.06" y="211.4" font-family="Liberation Sans" font-size="9.6" font-weight="normal" text-anchor="middle" fill="#383838" stroke="#383838" stroke-width="0.25" textLength="12.81" lengthAdjust="spacingAndGlyphs" >700</text>
<text x="262.24" y="211.4" font-family="Liberation Sans" font-size="9.6" font-weight="normal" text-anchor="middle" fill="#383838" stroke="#383838" stroke-width="0.25" textLength="12.81" lengthAdjust="spacingAndGlyphs" >800</text>
<text x="288.42" y="211.4" font-family="Liberation Sans" font-size="9.6" font-weight="normal" text-anchor="middle" fill="#383838" stroke="#383838" stroke-width="0.25" textLength="12.81" lengthAdjust="spacingAndGlyphs" >900</text>
<text x="109.10" y="226.60" font-family="Liberation Sans" font-size="9.24" font-weight="bold" fill="#111" stroke="#111" stroke-width="0.2" textLength="123.10" lengthAdjust="spacingAndGlyphs" >dsDNA (ng/mg dry weight)</text>
<text x="27.90" y="58.75" font-family="Liberation Sans" font-size="10.03" font-weight="bold" fill="#111" stroke="#111" stroke-width="0.2" textLength="18.10" lengthAdjust="spacingAndGlyphs" >nSM</text>
<text x="3.30" y="153.80" font-family="Liberation Sans" font-size="9.66" font-weight="bold" fill="#111" stroke="#111" stroke-width="0.2" textLength="42.90" lengthAdjust="spacingAndGlyphs" >MeninGEL</text>
<line x1="248" y1="55.9" x2="274.3" y2="55.9" stroke="#555" stroke-width="1.2" />
<line x1="274.3" y1="54.2" x2="274.3" y2="57.6" stroke="#555" stroke-width="1.1" />
<line x1="56.4" y1="149.8" x2="56.4" y2="153" stroke="#333" stroke-width="1.1" />
<line x1="276.4" y1="56.2" x2="276.4" y2="99.4" stroke="#444" stroke-width="1.1" />
<line x1="276.4" y1="108" x2="276.4" y2="151.4" stroke="#333" stroke-width="1.1" />
<line x1="61.5" y1="151.4" x2="276.9" y2="151.4" stroke="#333" stroke-width="1.1" />
<circle cx="276.4" cy="103.8" r="1.3" fill="#111"/>
<line x1="63" y1="139" x2="247.2" y2="139" stroke="#b04848" stroke-width="1.4" />
<polygon points="57.8,138.9 64.5,136.4 64.5,141.4" fill="#9a2020"/>
<text x="134.80" y="134.80" font-family="Liberation Sans" font-size="9.89" font-weight="bold" fill="#111" stroke="#111" stroke-width="0.2" textLength="25.00" lengthAdjust="spacingAndGlyphs" >98.6%</text>
<line x1="248.4" y1="95.5" x2="248.4" y2="199" stroke="#c05060" stroke-width="1.3" stroke-dasharray="3.1 3.0"/>
<text x="248.60" y="19.70" font-family="Liberation Sans" font-size="9.17" font-weight="bold" fill="#111" textLength="37.50" lengthAdjust="spacingAndGlyphs" >*p &lt; 0.05</text>
<text x="310.20" y="10.90" font-family="Liberation Serif" font-size="15.04" font-weight="bold" fill="#111" stroke="#111" stroke-width="0.35" textLength="12.60" lengthAdjust="spacingAndGlyphs" >B.</text>
<line x1="351.6" y1="108.4" x2="597.8" y2="108.4" stroke="#c8c8c8" stroke-width="0.7" stroke-dasharray="1.2 1.2"/>
<rect x="351.6" y="23.9" width="170.7" height="69.4" fill="#fffaf0" stroke="#3a3a3a" stroke-width="1.3"/>
<rect x="353.1" y="25.4" width="167.5" height="66.4" fill="url(#ppeach)" stroke="none" stroke-width="0"/>
<rect x="351.6" y="123.4" width="99.5" height="68.6" fill="#f4f4ff" stroke="#555" stroke-width="1.3"/>
<rect x="352.9" y="124.8" width="96.4" height="65.8" fill="url(#pblue)" stroke="none" stroke-width="0"/>
<rect x="351.6" y="9.4" width="246.2" height="197.9" fill="none" stroke="#333" stroke-width="1.2"/>
<line x1="348.5" y1="58.6" x2="351.6" y2="58.6" stroke="#333" stroke-width="1" />
<line x1="348.5" y1="158" x2="351.6" y2="158" stroke="#333" stroke-width="1" />
<line x1="350" y1="108.3" x2="351.6" y2="108.3" stroke="#333" stroke-width="1" />
<line x1="351.85" y1="207.3" x2="351.85" y2="211" stroke="#333" stroke-width="1.1" />
<line x1="360.95000000000005" y1="207.3" x2="360.95000000000005" y2="209.1" stroke="#333" stroke-width="0.9" />
<line x1="370.05" y1="207.3" x2="370.05" y2="209.1" stroke="#333" stroke-width="0.9" />
<line x1="379.15000000000003" y1="207.3" x2="379.15000000000003" y2="209.1" stroke="#333" stroke-width="0.9" />
<line x1="388.25" y1="207.3" x2="388.25" y2="209.1" stroke="#333" stroke-width="0.9" />
<line x1="397.35" y1="207.3" x2="397.35" y2="211" stroke="#333" stroke-width="1.1" />
<line x1="406.45000000000005" y1="207.3" x2="406.45000000000005" y2="209.1" stroke="#333" stroke-width="0.9" />
<line x1="415.55" y1="207.3" x2="415.55" y2="209.1" stroke="#333" stroke-width="0.9" />
<line x1="424.65000000000003" y1="207.3" x2="424.65000000000003" y2="209.1" stroke="#333" stroke-width="0.9" />
<line x1="433.75" y1="207.3" x2="433.75" y2="209.1" stroke="#333" stroke-width="0.9" />
<line x1="442.85" y1="207.3" x2="442.85" y2="211" stroke="#333" stroke-width="1.1" />
<line x1="451.95000000000005" y1="207.3" x2="451.95000000000005" y2="209.1" stroke="#333" stroke-width="0.9" />
<line x1="461.05" y1="207.3" x2="461.05" y2="209.1" stroke="#333" stroke-width="0.9" />
<line x1="470.15000000000003" y1="207.3" x2="470.15000000000003" y2="209.1" stroke="#333" stroke-width="0.9" />
<line x1="479.25" y1="207.3" x2="479.25" y2="209.1" stroke="#333" stroke-width="0.9" />
<line x1="488.35" y1="207.3" x2="488.35" y2="211" stroke="#333" stroke-width="1.1" />
<line x1="497.45000000000005" y1="207.3" x2="497.45000000000005" y2="209.1" stroke="#333" stroke-width="0.9" />
<line x1="506.55" y1="207.3" x2="506.55" y2="209.1" stroke="#333" stroke-width="0.9" />
<line x1="515.65" y1="207.3" x2="515.65" y2="209.1" stroke="#333" stroke-width="0.9" />
<line x1="524.75" y1="207.3" x2="524.75" y2="209.1" stroke="#333" stroke-width="0.9" />
<line x1="533.85" y1="207.3" x2="533.85" y2="211" stroke="#333" stroke-width="1.1" />
<line x1="542.95" y1="207.3" x2="542.95" y2="209.1" stroke="#333" stroke-width="0.9" />
<line x1="552.05" y1="207.3" x2="552.05" y2="209.1" stroke="#333" stroke-width="0.9" />
<line x1="561.15" y1="207.3" x2="561.15" y2="209.1" stroke="#333" stroke-width="0.9" />
<line x1="570.25" y1="207.3" x2="570.25" y2="209.1" stroke="#333" stroke-width="0.9" />
<line x1="579.35" y1="207.3" x2="579.35" y2="211" stroke="#333" stroke-width="1.1" />
<line x1="588.45" y1="207.3" x2="588.45" y2="209.1" stroke="#333" stroke-width="0.9" />
<line x1="597.55" y1="207.3" x2="597.55" y2="209.1" stroke="#333" stroke-width="0.9" />
<text x="351.85" y="220.8" font-family="Liberation Sans" font-size="9.5" font-weight="normal" text-anchor="middle" fill="#383838" stroke="#383838" stroke-width="0.25" textLength="4.23" lengthAdjust="spacingAndGlyphs" >0</text>
<text x="397.35" y="220.8" font-family="Liberation Sans" font-size="9.5" font-weight="normal" text-anchor="middle" fill="#383838" stroke="#383838" stroke-width="0.25" textLength="4.23" lengthAdjust="spacingAndGlyphs" >5</text>
<text x="442.85" y="220.8" font-family="Liberation Sans" font-size="9.5" font-weight="normal" text-anchor="middle" fill="#383838" stroke="#383838" stroke-width="0.25" textLength="8.45" lengthAdjust="spacingAndGlyphs" >10</text>
<text x="488.35" y="220.8" font-family="Liberation Sans" font-size="9.5" font-weight="normal" text-anchor="middle" fill="#383838" stroke="#383838" stroke-width="0.25" textLength="8.45" lengthAdjust="spacingAndGlyphs" >15</text>
<text x="533.85" y="220.8" font-family="Liberation Sans" font-size="9.5" font-weight="normal" text-anchor="middle" fill="#383838" stroke="#383838" stroke-width="0.25" textLength="8.45" lengthAdjust="spacingAndGlyphs" >20</text>
<text x="579.35" y="220.8" font-family="Liberation Sans" font-size="9.5" font-weight="normal" text-anchor="middle" fill="#383838" stroke="#383838" stroke-width="0.25" textLength="8.45" lengthAdjust="spacingAndGlyphs" >25</text>
<text x="417.10" y="236.90" font-family="Liberation Sans" font-size="10.48" font-weight="bold" fill="#111" stroke="#111" stroke-width="0.2" textLength="114.60" lengthAdjust="spacingAndGlyphs" >HYP (µg/mg dry weight)</text>
<text x="300.00" y="61.70" font-family="Liberation Sans" font-size="9.52" font-weight="bold" fill="#111" stroke="#111" stroke-width="0.2" textLength="44.40" lengthAdjust="spacingAndGlyphs" >MeninGEL</text>
<text x="325.80" y="160.90" font-family="Liberation Sans" font-size="10.03" font-weight="bold" fill="#111" stroke="#111" stroke-width="0.2" textLength="18.90" lengthAdjust="spacingAndGlyphs" >nSM</text>
<rect x="459.9" y="75.0" width="3" height="3" fill="#8b1414" stroke="#fff" stroke-width="0.7" paint-order="stroke"/>
<rect x="517.4" y="36.9" width="3" height="3" fill="#8b1414" stroke="#fff" stroke-width="0.7" paint-order="stroke"/>
<rect x="571.7" y="51.3" width="3" height="3" fill="#8b1414" stroke="#fff" stroke-width="0.7" paint-order="stroke"/>
<rect x="442.8" y="135.9" width="3" height="3" fill="#8b1414" stroke="#fff" stroke-width="0.7" paint-order="stroke"/>
<rect x="456.3" y="150.3" width="3" height="3" fill="#8b1414" stroke="#fff" stroke-width="0.7" paint-order="stroke"/>
<rect x="448.2" y="171.9" width="3" height="3" fill="#8b1414" stroke="#fff" stroke-width="0.7" paint-order="stroke"/>
<line x1="522.3" y1="59" x2="573.7" y2="59" stroke="#333" stroke-width="1.2" />
<line x1="573.7" y1="57.3" x2="573.7" y2="60.7" stroke="#333" stroke-width="1.2" />
<line x1="451.2" y1="158.3" x2="457.8" y2="158.3" stroke="#333" stroke-width="1.2" />
<line x1="457.8" y1="156.6" x2="457.8" y2="160" stroke="#333" stroke-width="1.2" />
<line x1="460" y1="158.3" x2="577.5" y2="158.3" stroke="#333" stroke-width="1.2" />
<line x1="577.1" y1="60" x2="577.1" y2="101.8" stroke="#777" stroke-width="1.3" />
<line x1="577.1" y1="116.1" x2="577.1" y2="158.8" stroke="#777" stroke-width="1.3" />
<circle cx="577.3" cy="107.3" r="1.2" fill="#111"/><circle cx="577.3" cy="111.4" r="1.2" fill="#111"/>
<text x="549.30" y="21.60" font-family="Liberation Sans" font-size="9.74" font-weight="bold" fill="#111" textLength="43.70" lengthAdjust="spacingAndGlyphs" >**p &gt; 0.05</text>
<text x="19.20" y="246.70" font-family="Liberation Serif" font-size="14.65" font-weight="bold" fill="#111" stroke="#111" stroke-width="0.35" textLength="13.60" lengthAdjust="spacingAndGlyphs" >C.</text>
<line x1="50.1" y1="245.4" x2="290.6" y2="245.4" stroke="#484848" stroke-width="1.2" />
<line x1="290.6" y1="245.4" x2="290.6" y2="438.3" stroke="#555" stroke-width="1.3" />
<line x1="52.0" y1="245.4" x2="52.0" y2="438.3" stroke="#858585" stroke-width="1.8" />
<line x1="51" y1="438.2" x2="290.6" y2="438.2" stroke="#333" stroke-width="1.3" />
<rect x="52.2" y="259.2" width="196.4" height="67.6" fill="url(#pgrey)" stroke="#222" stroke-width="1.1"/>
<rect x="52.2" y="356.2" width="150.8" height="67.2" fill="url(#pgreen)" stroke="#222" stroke-width="1.1"/>
<line x1="49" y1="293" x2="52.2" y2="293" stroke="#333" stroke-width="1" />
<line x1="49" y1="390" x2="52.2" y2="390" stroke="#333" stroke-width="1" />
<line x1="50.5" y1="341.6" x2="52.2" y2="341.6" stroke="#333" stroke-width="1" />
<line x1="51.8" y1="438.3" x2="51.8" y2="441.3" stroke="#333" stroke-width="1" />
<line x1="55.43" y1="438.3" x2="55.43" y2="440.1" stroke="#333" stroke-width="0.9" />
<line x1="59.059999999999995" y1="438.3" x2="59.059999999999995" y2="440.1" stroke="#333" stroke-width="0.9" />
<line x1="62.69" y1="438.3" x2="62.69" y2="440.1" stroke="#333" stroke-width="0.9" />
<line x1="66.32" y1="438.3" x2="66.32" y2="440.1" stroke="#333" stroke-width="0.9" />
<line x1="69.94999999999999" y1="438.3" x2="69.94999999999999" y2="441.3" stroke="#333" stroke-width="1" />
<line x1="73.58" y1="438.3" x2="73.58" y2="440.1" stroke="#333" stroke-width="0.9" />
<line x1="77.21" y1="438.3" x2="77.21" y2="440.1" stroke="#333" stroke-width="0.9" />
<line x1="80.84" y1="438.3" x2="80.84" y2="440.1" stroke="#333" stroke-width="0.9" />
<line x1="84.47" y1="438.3" x2="84.47" y2="440.1" stroke="#333" stroke-width="0.9" />
<line x1="88.1" y1="438.3" x2="88.1" y2="441.3" stroke="#333" stroke-width="1" />
<line x1="91.72999999999999" y1="438.3" x2="91.72999999999999" y2="440.1" stroke="#333" stroke-width="0.9" />
<line x1="95.35999999999999" y1="438.3" x2="95.35999999999999" y2="440.1" stroke="#333" stroke-width="0.9" />
<line x1="98.99" y1="438.3" x2="98.99" y2="440.1" stroke="#333" stroke-width="0.9" />
<line x1="102.61999999999999" y1="438.3" x2="102.61999999999999" y2="440.1" stroke="#333" stroke-width="0.9" />
<line x1="106.25" y1="438.3" x2="106.25" y2="441.3" stroke="#333" stroke-width="1" />
<line x1="109.88" y1="438.3" x2="109.88" y2="440.1" stroke="#333" stroke-width="0.9" />
<line x1="113.50999999999999" y1="438.3" x2="113.50999999999999" y2="440.1" stroke="#333" stroke-width="0.9" />
<line x1="117.14" y1="438.3" x2="117.14" y2="440.1" stroke="#333" stroke-width="0.9" />
<line x1="120.77" y1="438.3" x2="120.77" y2="440.1" stroke="#333" stroke-width="0.9" />
<line x1="124.39999999999999" y1="438.3" x2="124.39999999999999" y2="441.3" stroke="#333" stroke-width="1" />
<line x1="128.02999999999997" y1="438.3" x2="128.02999999999997" y2="440.1" stroke="#333" stroke-width="0.9" />
<line x1="131.65999999999997" y1="438.3" x2="131.65999999999997" y2="440.1" stroke="#333" stroke-width="0.9" />
<line x1="135.29" y1="438.3" x2="135.29" y2="440.1" stroke="#333" stroke-width="0.9" />
<line x1="138.92" y1="438.3" x2="138.92" y2="440.1" stroke="#333" stroke-width="0.9" />
<line x1="142.54999999999998" y1="438.3" x2="142.54999999999998" y2="441.3" stroke="#333" stroke-width="1" />
<line x1="146.18" y1="438.3" x2="146.18" y2="440.1" stroke="#333" stroke-width="0.9" />
<line x1="149.81" y1="438.3" x2="149.81" y2="440.1" stroke="#333" stroke-width="0.9" />
<line x1="153.44" y1="438.3" x2="153.44" y2="440.1" stroke="#333" stroke-width="0.9" />
<line x1="157.07" y1="438.3" x2="157.07" y2="440.1" stroke="#333" stroke-width="0.9" />
<line x1="160.7" y1="438.3" x2="160.7" y2="441.3" stroke="#333" stroke-width="1" />
<line x1="164.32999999999998" y1="438.3" x2="164.32999999999998" y2="440.1" stroke="#333" stroke-width="0.9" />
<line x1="167.95999999999998" y1="438.3" x2="167.95999999999998" y2="440.1" stroke="#333" stroke-width="0.9" />
<line x1="171.58999999999997" y1="438.3" x2="171.58999999999997" y2="440.1" stroke="#333" stroke-width="0.9" />
<line x1="175.21999999999997" y1="438.3" x2="175.21999999999997" y2="440.1" stroke="#333" stroke-width="0.9" />
<line x1="178.85" y1="438.3" x2="178.85" y2="441.3" stroke="#333" stroke-width="1" />
<line x1="182.48000000000002" y1="438.3" x2="182.48000000000002" y2="440.1" stroke="#333" stroke-width="0.9" />
<line x1="186.11" y1="438.3" x2="186.11" y2="440.1" stroke="#333" stroke-width="0.9" />
<line x1="189.74" y1="438.3" x2="189.74" y2="440.1" stroke="#333" stroke-width="0.9" />
<line x1="193.37" y1="438.3" x2="193.37" y2="440.1" stroke="#333" stroke-width="0.9" />
<line x1="197.0" y1="438.3" x2="197.0" y2="441.3" stroke="#333" stroke-width="1" />
<line x1="200.63" y1="438.3" x2="200.63" y2="440.1" stroke="#333" stroke-width="0.9" />
<line x1="204.26" y1="438.3" x2="204.26" y2="440.1" stroke="#333" stroke-width="0.9" />
<line x1="207.89" y1="438.3" x2="207.89" y2="440.1" stroke="#333" stroke-width="0.9" />
<line x1="211.51999999999998" y1="438.3" x2="211.51999999999998" y2="440.1" stroke="#333" stroke-width="0.9" />
<line x1="215.14999999999998" y1="438.3" x2="215.14999999999998" y2="441.3" stroke="#333" stroke-width="1" />
<line x1="218.77999999999997" y1="438.3" x2="218.77999999999997" y2="440.1" stroke="#333" stroke-width="0.9" />
<line x1="222.40999999999997" y1="438.3" x2="222.40999999999997" y2="440.1" stroke="#333" stroke-width="0.9" />
<line x1="226.03999999999996" y1="438.3" x2="226.03999999999996" y2="440.1" stroke="#333" stroke-width="0.9" />
<line x1="229.66999999999996" y1="438.3" x2="229.66999999999996" y2="440.1" stroke="#333" stroke-width="0.9" />
<line x1="233.29999999999995" y1="438.3" x2="233.29999999999995" y2="441.3" stroke="#333" stroke-width="1" />
<line x1="236.93" y1="438.3" x2="236.93" y2="440.1" stroke="#333" stroke-width="0.9" />
<line x1="240.56" y1="438.3" x2="240.56" y2="440.1" stroke="#333" stroke-width="0.9" />
<line x1="244.19" y1="438.3" x2="244.19" y2="440.1" stroke="#333" stroke-width="0.9" />
<line x1="247.82" y1="438.3" x2="247.82" y2="440.1" stroke="#333" stroke-width="0.9" />
<line x1="251.45" y1="438.3" x2="251.45" y2="441.3" stroke="#333" stroke-width="1" />
<line x1="255.07999999999998" y1="438.3" x2="255.07999999999998" y2="440.1" stroke="#333" stroke-width="0.9" />
<line x1="258.71" y1="438.3" x2="258.71" y2="440.1" stroke="#333" stroke-width="0.9" />
<line x1="262.34" y1="438.3" x2="262.34" y2="440.1" stroke="#333" stroke-width="0.9" />
<line x1="265.96999999999997" y1="438.3" x2="265.96999999999997" y2="440.1" stroke="#333" stroke-width="0.9" />
<line x1="269.6" y1="438.3" x2="269.6" y2="441.3" stroke="#333" stroke-width="1" />
<line x1="273.22999999999996" y1="438.3" x2="273.22999999999996" y2="440.1" stroke="#333" stroke-width="0.9" />
<line x1="276.86" y1="438.3" x2="276.86" y2="440.1" stroke="#333" stroke-width="0.9" />
<line x1="280.48999999999995" y1="438.3" x2="280.48999999999995" y2="440.1" stroke="#333" stroke-width="0.9" />
<line x1="284.12" y1="438.3" x2="284.12" y2="440.1" stroke="#333" stroke-width="0.9" />
<line x1="287.75" y1="438.3" x2="287.75" y2="441.3" stroke="#333" stroke-width="1" />
<text x="51.8" y="450.9" font-family="Liberation Sans" font-size="9.0" font-weight="normal" text-anchor="middle" fill="#383838" stroke="#383838" stroke-width="0.25" textLength="4.0" lengthAdjust="spacingAndGlyphs" >0</text>
<text x="69.95" y="450.9" font-family="Liberation Sans" font-size="9.0" font-weight="normal" text-anchor="middle" fill="#383838" stroke="#383838" stroke-width="0.25" textLength="4.0" lengthAdjust="spacingAndGlyphs" >1</text>
<text x="88.1" y="450.9" font-family="Liberation Sans" font-size="9.0" font-weight="normal" text-anchor="middle" fill="#383838" stroke="#383838" stroke-width="0.25" textLength="4.0" lengthAdjust="spacingAndGlyphs" >2</text>
<text x="106.25" y="450.9" font-family="Liberation Sans" font-size="9.0" font-weight="normal" text-anchor="middle" fill="#383838" stroke="#383838" stroke-width="0.25" textLength="4.0" lengthAdjust="spacingAndGlyphs" >3</text>
<text x="124.4" y="450.9" font-family="Liberation Sans" font-size="9.0" font-weight="normal" text-anchor="middle" fill="#383838" stroke="#383838" stroke-width="0.25" textLength="4.0" lengthAdjust="spacingAndGlyphs" >4</text>
<text x="142.55" y="450.9" font-family="Liberation Sans" font-size="9.0" font-weight="normal" text-anchor="middle" fill="#383838" stroke="#383838" stroke-width="0.25" textLength="4.0" lengthAdjust="spacingAndGlyphs" >5</text>
<text x="160.7" y="450.9" font-family="Liberation Sans" font-size="9.0" font-weight="normal" text-anchor="middle" fill="#383838" stroke="#383838" stroke-width="0.25" textLength="4.0" lengthAdjust="spacingAndGlyphs" >6</text>
<text x="178.85" y="450.9" font-family="Liberation Sans" font-size="9.0" font-weight="normal" text-anchor="middle" fill="#383838" stroke="#383838" stroke-width="0.25" textLength="4.0" lengthAdjust="spacingAndGlyphs" >7</text>
<text x="197.0" y="450.9" font-family="Liberation Sans" font-size="9.0" font-weight="normal" text-anchor="middle" fill="#383838" stroke="#383838" stroke-width="0.25" textLength="4.0" lengthAdjust="spacingAndGlyphs" >8</text>
<text x="215.15" y="450.9" font-family="Liberation Sans" font-size="9.0" font-weight="normal" text-anchor="middle" fill="#383838" stroke="#383838" stroke-width="0.25" textLength="4.0" lengthAdjust="spacingAndGlyphs" >9</text>
<text x="233.3" y="450.9" font-family="Liberation Sans" font-size="9.0" font-weight="normal" text-anchor="middle" fill="#383838" stroke="#383838" stroke-width="0.25" textLength="8.01" lengthAdjust="spacingAndGlyphs" >10</text>
<text x="251.45" y="450.9" font-family="Liberation Sans" font-size="9.0" font-weight="normal" text-anchor="middle" fill="#383838" stroke="#383838" stroke-width="0.25" textLength="8.01" lengthAdjust="spacingAndGlyphs" >11</text>
<text x="269.6" y="450.9" font-family="Liberation Sans" font-size="9.0" font-weight="normal" text-anchor="middle" fill="#383838" stroke="#383838" stroke-width="0.25" textLength="8.01" lengthAdjust="spacingAndGlyphs" >12</text>
<text x="287.75" y="450.9" font-family="Liberation Sans" font-size="9.0" font-weight="normal" text-anchor="middle" fill="#383838" stroke="#383838" stroke-width="0.25" textLength="8.01" lengthAdjust="spacingAndGlyphs" >13</text>
<text x="117.50" y="466.20" font-family="Liberation Sans" font-size="9.52" font-weight="bold" fill="#111" stroke="#111" stroke-width="0.2" textLength="107.40" lengthAdjust="spacingAndGlyphs" >µg GAG/mg dry weight</text>
<text x="26.70" y="296.10" font-family="Liberation Sans" font-size="9.17" font-weight="bold" fill="#111" stroke="#111" stroke-width="0.2" textLength="18.50" lengthAdjust="spacingAndGlyphs" >nSM</text>
<text x="1.60" y="392.20" font-family="Liberation Sans" font-size="9.24" font-weight="bold" fill="#111" stroke="#111" stroke-width="0.2" textLength="43.60" lengthAdjust="spacingAndGlyphs" >MeninGEL</text>
<rect x="228.3" y="268.1" width="3" height="3" fill="#e8141c" stroke="#fff" stroke-width="0.7" paint-order="stroke"/>
<rect x="232.4" y="309.3" width="3" height="3" fill="#e8141c" stroke="#fff" stroke-width="0.7" paint-order="stroke"/>
<rect x="268.9" y="285.6" width="3" height="3" fill="#e8141c" stroke="#fff" stroke-width="0.7" paint-order="stroke"/>
<rect x="183.4" y="365.6" width="3" height="3" fill="#e8141c" stroke="#fff" stroke-width="0.7" paint-order="stroke"/>
<rect x="214.8" y="379.7" width="3" height="3" fill="#e8141c" stroke="#fff" stroke-width="0.7" paint-order="stroke"/>
<rect x="206.9" y="408.0" width="3" height="3" fill="#e8141c" stroke="#fff" stroke-width="0.7" paint-order="stroke"/>
<line x1="248.6" y1="293.5" x2="270.8" y2="293.5" stroke="#333" stroke-width="1.2" />
<line x1="270.8" y1="291.8" x2="270.8" y2="295.2" stroke="#333" stroke-width="1.2" />
<line x1="203" y1="389.8" x2="216.3" y2="389.8" stroke="#333" stroke-width="1.2" />
<line x1="216.3" y1="388.1" x2="216.3" y2="391.5" stroke="#333" stroke-width="1.2" />
<line x1="219" y1="389.8" x2="274.2" y2="389.8" stroke="#333" stroke-width="1.2" />
<line x1="273.6" y1="294.5" x2="273.6" y2="335.5" stroke="#444" stroke-width="1.2" />
<line x1="273.6" y1="348.9" x2="273.6" y2="390.3" stroke="#444" stroke-width="1.2" />
<circle cx="273.7" cy="340.4" r="1.2" fill="#111"/><circle cx="273.7" cy="344.4" r="1.2" fill="#111"/>
<text x="243.90" y="255.60" font-family="Liberation Sans" font-size="9.60" font-weight="bold" fill="#111" textLength="41.80" lengthAdjust="spacingAndGlyphs" >**p &gt; 0.05</text>
<text x="309.90" y="246.50" font-family="Liberation Serif" font-size="14.81" font-weight="bold" fill="#111" stroke="#111" stroke-width="0.35" textLength="12.90" lengthAdjust="spacingAndGlyphs" >D.</text>
<rect x="362.4" y="431.1" width="45.2" height="17.9" fill="url(#pdblue)" stroke="#2a2a55" stroke-width="1.1"/>
<rect x="418.2" y="412.5" width="45.4" height="36.5" fill="url(#pdgrey)" stroke="#3a3a3a" stroke-width="1.1"/>
<rect x="487.2" y="303.2" width="45.2" height="145.8" fill="url(#pdblue)" stroke="#2a2a55" stroke-width="1.1"/>
<rect x="543.8" y="292.0" width="44.9" height="157.0" fill="url(#pdgrey)" stroke="#3a3a3a" stroke-width="1.1"/>
<line x1="384.9" y1="426.5" x2="384.9" y2="431.1" stroke="#333" stroke-width="1" />
<line x1="383.09999999999997" y1="426.5" x2="386.7" y2="426.5" stroke="#333" stroke-width="1.1" />
<line x1="441.1" y1="407.4" x2="441.1" y2="412.6" stroke="#333" stroke-width="1" />
<line x1="439.3" y1="407.4" x2="442.90000000000003" y2="407.4" stroke="#333" stroke-width="1.1" />
<line x1="509.9" y1="286.7" x2="509.9" y2="303.2" stroke="#333" stroke-width="1" />
<line x1="508.09999999999997" y1="286.7" x2="511.7" y2="286.7" stroke="#333" stroke-width="1.1" />
<line x1="566.6" y1="286.4" x2="566.6" y2="291.8" stroke="#333" stroke-width="1" />
<line x1="564.8000000000001" y1="286.4" x2="568.4" y2="286.4" stroke="#333" stroke-width="1.1" />
<line x1="350.4" y1="246.8" x2="600.8" y2="246.8" stroke="#333" stroke-width="1.2" />
<line x1="350.4" y1="246.8" x2="350.4" y2="449" stroke="#333" stroke-width="1.2" />
<line x1="600.8" y1="246.8" x2="600.8" y2="449" stroke="#333" stroke-width="1.2" />
<line x1="350.4" y1="449" x2="600.8" y2="449" stroke="#888" stroke-width="1.0" />
<line x1="357" y1="449" x2="594" y2="449" stroke="#222" stroke-width="1.15" />
<line x1="346.5" y1="449.0" x2="350.4" y2="449.0" stroke="#333" stroke-width="1" />
<text x="344.2" y="452.3" font-family="Liberation Sans" font-size="9.6" font-weight="normal" text-anchor="end" fill="#383838" stroke="#383838" stroke-width="0.25" textLength="4.59" lengthAdjust="spacingAndGlyphs" >0</text>
<line x1="348.2" y1="432.15" x2="350.4" y2="432.15" stroke="#333" stroke-width="1" />
<line x1="346.5" y1="415.3" x2="350.4" y2="415.3" stroke="#333" stroke-width="1" />
<text x="344.2" y="418.6" font-family="Liberation Sans" font-size="9.6" font-weight="normal" text-anchor="end" fill="#383838" stroke="#383838" stroke-width="0.25" textLength="9.18" lengthAdjust="spacingAndGlyphs" >10</text>
<line x1="348.2" y1="398.45" x2="350.4" y2="398.45" stroke="#333" stroke-width="1" />
<line x1="346.5" y1="381.6" x2="350.4" y2="381.6" stroke="#333" stroke-width="1" />
<text x="344.2" y="384.9" font-family="Liberation Sans" font-size="9.6" font-weight="normal" text-anchor="end" fill="#383838" stroke="#383838" stroke-width="0.25" textLength="9.18" lengthAdjust="spacingAndGlyphs" >20</text>
<line x1="348.2" y1="364.75" x2="350.4" y2="364.75" stroke="#333" stroke-width="1" />
<line x1="346.5" y1="347.9" x2="350.4" y2="347.9" stroke="#333" stroke-width="1" />
<text x="344.2" y="351.2" font-family="Liberation Sans" font-size="9.6" font-weight="normal" text-anchor="end" fill="#383838" stroke="#383838" stroke-width="0.25" textLength="9.18" lengthAdjust="spacingAndGlyphs" >30</text>
<line x1="348.2" y1="331.05" x2="350.4" y2="331.05" stroke="#333" stroke-width="1" />
<line x1="346.5" y1="314.2" x2="350.4" y2="314.2" stroke="#333" stroke-width="1" />
<text x="344.2" y="317.5" font-family="Liberation Sans" font-size="9.6" font-weight="normal" text-anchor="end" fill="#383838" stroke="#383838" stroke-width="0.25" textLength="9.18" lengthAdjust="spacingAndGlyphs" >40</text>
<line x1="348.2" y1="297.35" x2="350.4" y2="297.35" stroke="#333" stroke-width="1" />
<line x1="346.5" y1="280.5" x2="350.4" y2="280.5" stroke="#333" stroke-width="1" />
<text x="344.2" y="283.8" font-family="Liberation Sans" font-size="9.6" font-weight="normal" text-anchor="end" fill="#383838" stroke="#383838" stroke-width="0.25" textLength="9.18" lengthAdjust="spacingAndGlyphs" >50</text>
<line x1="348.2" y1="263.65" x2="350.4" y2="263.65" stroke="#333" stroke-width="1" />
<line x1="346.5" y1="246.79999999999998" x2="350.4" y2="246.79999999999998" stroke="#333" stroke-width="1" />
<text x="344.2" y="250.1" font-family="Liberation Sans" font-size="9.6" font-weight="normal" text-anchor="end" fill="#383838" stroke="#383838" stroke-width="0.25" textLength="9.18" lengthAdjust="spacingAndGlyphs" >60</text>
<text x="366.60" y="261.60" font-family="Liberation Sans" font-size="9.74" font-weight="normal" fill="#111" textLength="39.50" lengthAdjust="spacingAndGlyphs" stroke="#111" stroke-width="0.3">*p &lt; 0.05</text>
<text x="362.90" y="273.30" font-family="Liberation Sans" font-size="9.74" font-weight="normal" fill="#111" textLength="43.20" lengthAdjust="spacingAndGlyphs" stroke="#111" stroke-width="0.3">**p &gt; 0.05</text>
<line x1="384.5" y1="399.1" x2="405.8" y2="399.1" stroke="#333" stroke-width="1" />
<circle cx="413.1" cy="399.4" r="1.3" fill="#111"/>
<line x1="420.4" y1="399.1" x2="441.1" y2="399.1" stroke="#333" stroke-width="1" />
<line x1="509" y1="278.8" x2="530.3" y2="278.8" stroke="#333" stroke-width="1" />
<circle cx="535.75" cy="279.1" r="1.35" fill="#111"/><circle cx="539.9" cy="279.1" r="1.35" fill="#111"/>
<line x1="544.9" y1="278.8" x2="566.1" y2="278.8" stroke="#333" stroke-width="1" />
<text x="384.7" y="465.6" font-family="Liberation Sans" font-size="10" font-weight="bold" text-anchor="middle" fill="#111" stroke="#111" stroke-width="0.2">15</text>
<text x="441.1" y="465.6" font-family="Liberation Sans" font-size="10" font-weight="bold" text-anchor="middle" fill="#111" stroke="#111" stroke-width="0.2">30</text>
<text x="510" y="465.6" font-family="Liberation Sans" font-size="10" font-weight="bold" text-anchor="middle" fill="#111" stroke="#111" stroke-width="0.2">15</text>
<text x="566.2" y="465.6" font-family="Liberation Sans" font-size="10" font-weight="bold" text-anchor="middle" fill="#111" stroke="#111" stroke-width="0.2">30</text>
<text x="450.00" y="470.00" font-family="Liberation Sans" font-size="9.66" font-weight="bold" fill="#111" stroke="#111" stroke-width="0.2" textLength="51.50" lengthAdjust="spacingAndGlyphs" >Time (Days)</text>
<line x1="357.1" y1="474" x2="469.4" y2="474" stroke="#333" stroke-width="1" />
<line x1="482" y1="474.2" x2="594.6" y2="474.2" stroke="#333" stroke-width="1" />
<text x="387.90" y="488.60" font-family="Liberation Sans" font-size="10.90" font-weight="bold" fill="#111" stroke="#111" stroke-width="0.2" textLength="50.20" lengthAdjust="spacingAndGlyphs" >MeninGEL</text>
<text x="514.90" y="488.60" font-family="Liberation Sans" font-size="10.90" font-weight="bold" fill="#111" stroke="#111" stroke-width="0.2" textLength="47.10" lengthAdjust="spacingAndGlyphs" >MeninRIX</text>
<text x="0" y="0" font-family="Liberation Sans" font-size="9.7" font-weight="bold" text-anchor="middle" fill="#111" textLength="73" lengthAdjust="spacingAndGlyphs" stroke="#111" stroke-width="0.2" transform="translate(331.2 348.1) rotate(-90)">Weight Loss (%)</text>
</svg>
</body></html>
